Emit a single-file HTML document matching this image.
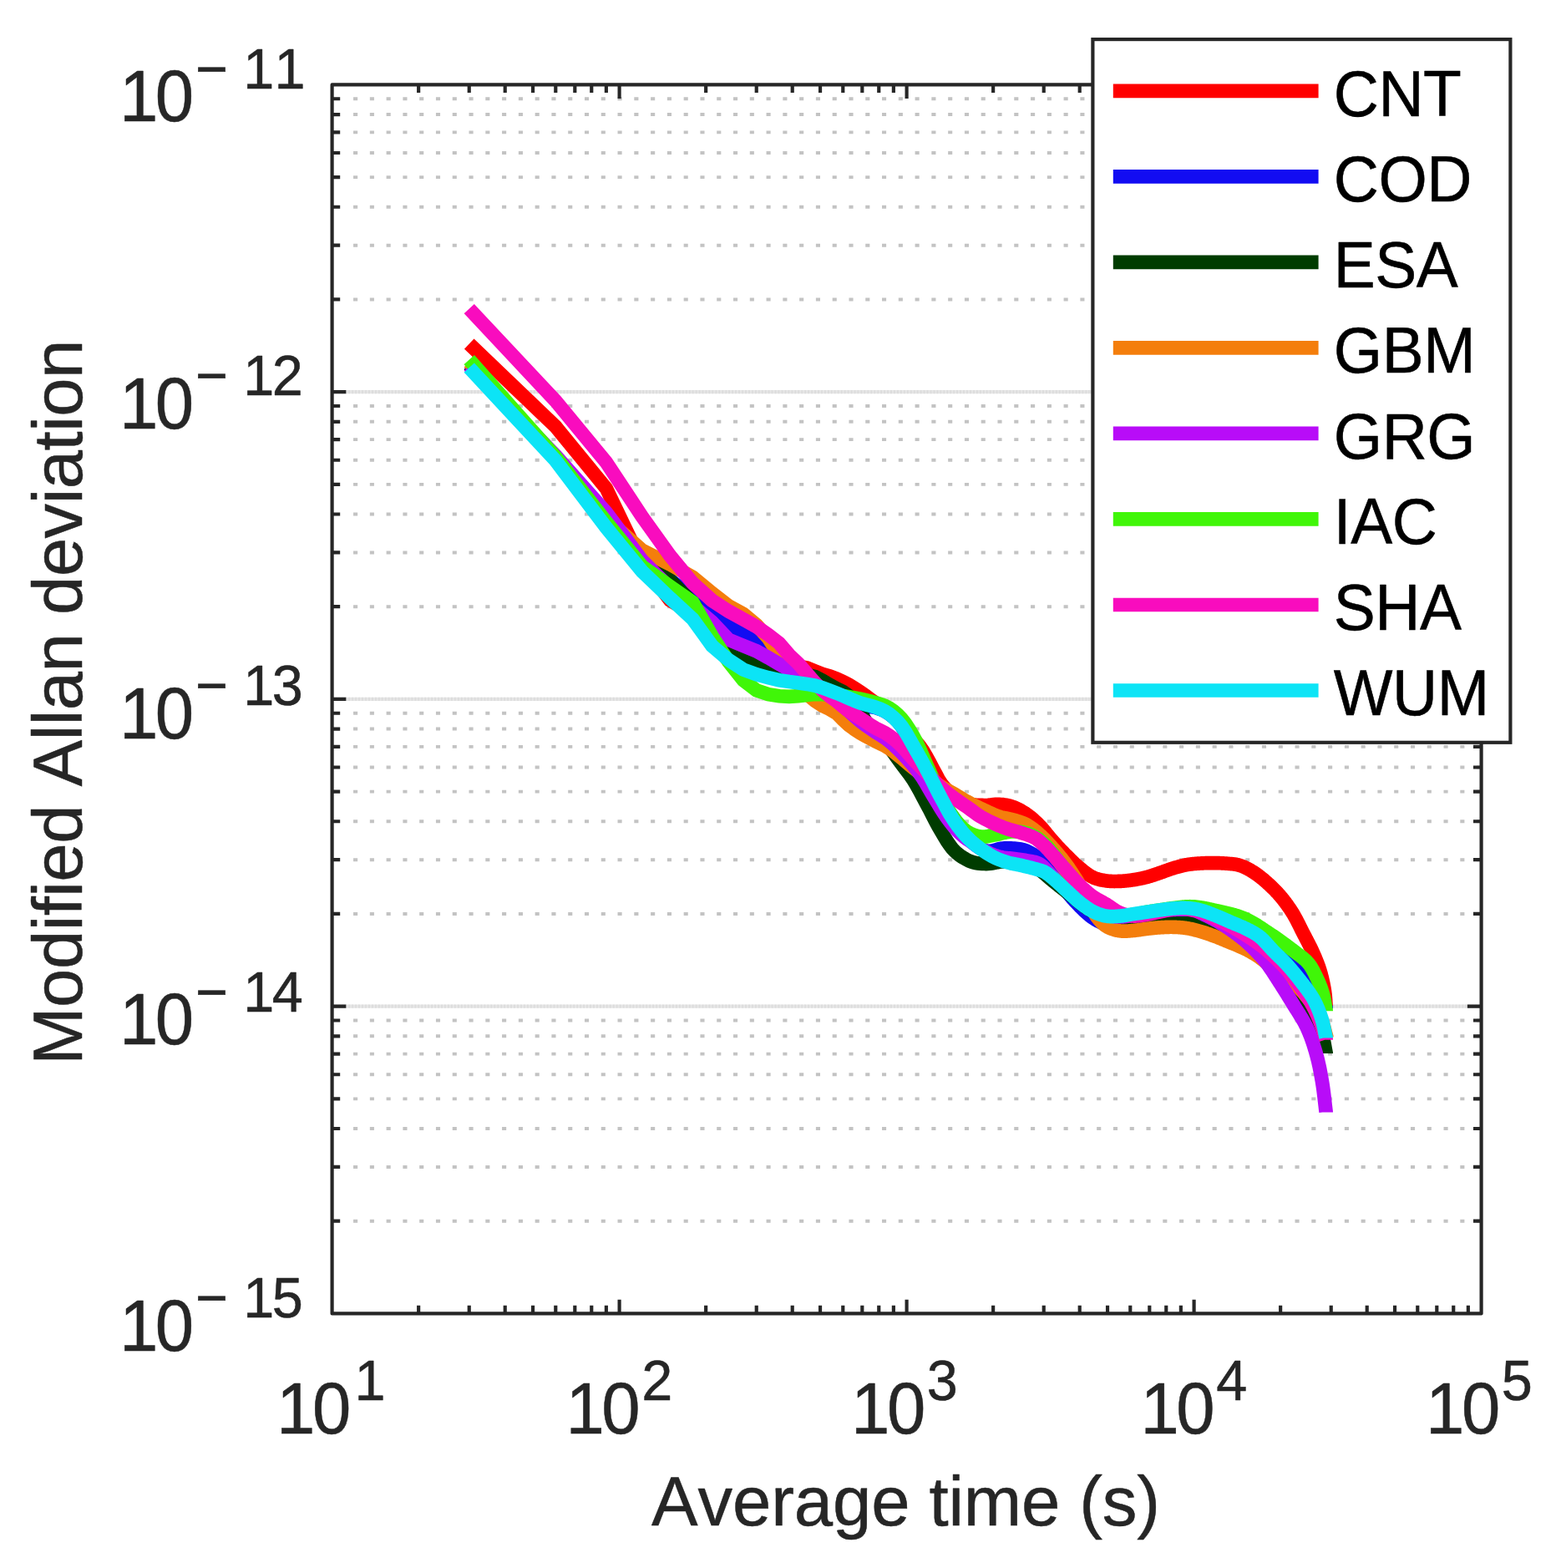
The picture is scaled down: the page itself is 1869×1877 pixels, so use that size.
<!DOCTYPE html>
<html lang="en"><head><meta charset="utf-8"><title>Modified Allan deviation</title>
<style>html,body{margin:0;padding:0;background:#fff}svg{display:block}text{font-family:"Liberation Sans", Arial, Helvetica, sans-serif;font-kerning:none}</style></head><body>
<svg width="1869" height="1877" viewBox="0 0 1869 1877">
<rect width="1869" height="1877" fill="#fff"/>
<path d="M423.05 358.45H1773.6M423.05 293.69H1773.6M423.05 247.74H1773.6M423.05 212.1H1773.6M423.05 182.98H1773.6M423.05 158.37H1773.6M423.05 137.04H1773.6M423.05 118.23H1773.6M423.05 726.2H1773.6M423.05 661.44H1773.6M423.05 615.49H1773.6M423.05 579.85H1773.6M423.05 550.73H1773.6M423.05 526.12H1773.6M423.05 504.79H1773.6M423.05 485.98H1773.6M423.05 1093.95H1773.6M423.05 1029.19H1773.6M423.05 983.24H1773.6M423.05 947.6H1773.6M423.05 918.48H1773.6M423.05 893.87H1773.6M423.05 872.54H1773.6M423.05 853.73H1773.6M423.05 1461.7H1773.6M423.05 1396.94H1773.6M423.05 1350.99H1773.6M423.05 1315.35H1773.6M423.05 1286.23H1773.6M423.05 1261.62H1773.6M423.05 1240.29H1773.6M423.05 1221.48H1773.6" fill="none" stroke="#c3c3c3" stroke-width="3.9" stroke-dasharray="5.1 14.68"/>
<path d="M397.6 469.15H1773.6M397.6 836.9H1773.6M397.6 1204.65H1773.6" fill="none" stroke="#e6e6e6" stroke-width="4.2"/>
<path d="M397.6 469.15H1773.6M397.6 836.9H1773.6M397.6 1204.65H1773.6" fill="none" stroke="#d4d4d4" stroke-opacity="0.55" stroke-width="4.2" stroke-dasharray="1.7 2.256"/>
<g fill="none" stroke-width="16.7" stroke-linejoin="miter" stroke-miterlimit="10" stroke-linecap="butt">
<path stroke="#ff0000" d="M561.73 411.6L665.28 510.8L725.86 584.7L768.84 674.3L802.18 718.5L829.41 735L852.44 766L872.39 786L889.99 795L905.73 799L919.97 798.23L932.97 797L944.93 796.92L956 797.5L966.31 799.59L975.95 803.5L985 806.96L993.54 809.42L1001.62 812.39L1009.28 815.94L1016.57 819.82L1023.52 824.05L1030.16 828.41L1036.52 832.88L1042.62 837.36L1048.48 841.5L1054.12 845.26L1059.55 848.94L1064.79 852.77L1069.86 856.54L1074.76 860.55L1079.5 865.18L1084.1 870.76L1088.56 876.86L1092.89 882.88L1097.1 888.2L1101.19 893.15L1105.18 898.86L1109.06 905.49L1112.84 912.3L1116.53 919.33L1120.13 926.03L1123.64 932.71L1127.08 938.07L1130.43 942.17L1133.72 945.71L1136.93 948.82L1140.08 951.55L1143.16 953.9L1146.18 955.96L1149.13 957.76L1152.03 959.29L1154.88 960.56L1157.67 961.58L1160.41 962.36L1163.11 962.91L1165.75 963.3L1168.35 963.56L1170.9 963.75L1173.41 963.86L1175.88 963.94L1178.31 963.98L1180.7 964L1183.06 963.9L1185.37 963.68L1187.65 963.39L1189.9 963.11L1192.11 962.88L1194.29 962.78L1196.44 962.82L1198.56 962.96L1200.65 963.16L1202.71 963.42L1204.75 963.74L1206.75 964.14L1208.73 964.6L1210.68 965.15L1212.61 965.78L1214.51 966.49L1216.39 967.29L1218.25 968.15L1220.08 969.09L1221.89 970.08L1223.68 971.12L1225.45 972.2L1227.2 973.33L1228.92 974.5L1230.63 975.72L1232.32 977L1233.99 978.33L1235.64 979.71L1237.27 981.13L1238.89 982.59L1240.49 984.08L1242.07 985.59L1243.63 987.13L1245.18 988.71L1246.71 990.35L1248.23 992.07L1249.73 993.84L1251.22 995.64L1252.69 997.45L1254.15 999.25L1255.59 1001.03L1257.02 1002.77L1258.43 1004.46L1259.84 1006.08L1261.23 1007.63L1262.6 1009.16L1263.97 1010.66L1265.32 1012.13L1266.66 1013.58L1267.99 1015L1269.3 1016.4L1270.61 1017.77L1271.9 1019.12L1273.19 1020.44L1274.46 1021.74L1275.72 1023.02L1276.97 1024.27L1278.21 1025.51L1279.44 1026.74L1280.66 1027.96L1281.87 1029.16L1283.07 1030.33L1284.26 1031.49L1285.44 1032.61L1286.61 1033.71L1287.77 1034.79L1288.93 1035.83L1290.07 1036.83L1291.21 1037.81L1292.33 1038.75L1293.45 1039.66L1294.56 1040.57L1295.67 1041.47L1296.76 1042.36L1297.85 1043.22L1298.93 1044.06L1300 1044.87L1301.06 1045.65L1302.12 1046.4L1303.17 1047.11L1304.21 1047.79L1305.24 1048.42L1306.27 1049.01L1307.29 1049.55L1308.3 1050.05L1309.31 1050.51L1310.31 1050.93L1311.3 1051.31L1312.28 1051.66L1313.26 1051.98L1314.24 1052.28L1315.2 1052.56L1316.16 1052.81L1317.12 1053.04L1318.07 1053.26L1319.01 1053.46L1319.95 1053.64L1320.88 1053.81L1321.8 1053.98L1322.72 1054.13L1323.64 1054.27L1324.54 1054.41L1325.45 1054.53L1326.34 1054.64L1327.24 1054.73L1328.12 1054.8L1329 1054.87L1329.88 1054.92L1330.75 1054.96L1331.62 1054.99L1332.48 1055.01L1333.33 1055.02L1334.19 1055.03L1335.03 1055.02L1335.87 1055.02L1336.71 1055L1337.54 1054.99L1338.37 1054.97L1339.19 1054.94L1340.01 1054.92L1340.83 1054.89L1341.64 1054.85L1342.44 1054.82L1343.24 1054.77L1344.04 1054.72L1344.83 1054.66L1345.62 1054.6L1346.41 1054.54L1347.19 1054.47L1347.96 1054.39L1348.73 1054.31L1349.5 1054.23L1350.27 1054.14L1351.03 1054.05L1351.78 1053.96L1352.54 1053.87L1353.28 1053.77L1354.03 1053.67L1354.77 1053.57L1355.51 1053.46L1356.24 1053.35L1356.97 1053.24L1357.7 1053.13L1358.42 1053.02L1359.14 1052.9L1359.86 1052.78L1360.57 1052.66L1361.28 1052.54L1361.99 1052.41L1362.69 1052.29L1363.39 1052.16L1364.09 1052.02L1364.78 1051.89L1365.47 1051.75L1366.16 1051.61L1366.84 1051.46L1367.52 1051.31L1368.2 1051.16L1368.88 1051.01L1369.55 1050.86L1370.22 1050.7L1370.88 1050.53L1371.54 1050.37L1372.2 1050.2L1372.86 1050.03L1373.51 1049.86L1374.16 1049.68L1374.81 1049.49L1375.46 1049.3L1376.1 1049.11L1376.74 1048.92L1377.38 1048.72L1378.01 1048.52L1378.64 1048.32L1379.27 1048.11L1379.9 1047.9L1380.52 1047.7L1381.14 1047.49L1381.76 1047.28L1382.38 1047.07L1382.99 1046.86L1383.6 1046.65L1384.21 1046.44L1384.82 1046.23L1385.42 1046.02L1386.02 1045.81L1387.22 1045.4L1388.4 1045L1389.58 1044.6L1390.75 1044.19L1391.9 1043.78L1393.05 1043.37L1394.19 1042.95L1395.33 1042.53L1396.45 1042.12L1397.56 1041.71L1398.67 1041.32L1399.77 1040.93L1400.86 1040.55L1401.94 1040.18L1403.02 1039.83L1404.08 1039.49L1405.14 1039.17L1406.2 1038.85L1407.24 1038.54L1408.28 1038.24L1409.31 1037.95L1410.33 1037.66L1411.35 1037.38L1412.36 1037.11L1413.36 1036.85L1414.36 1036.59L1415.35 1036.35L1416.33 1036.12L1417.31 1035.9L1418.28 1035.69L1419.24 1035.5L1420.2 1035.31L1421.15 1035.14L1422.09 1034.98L1423.03 1034.83L1423.97 1034.69L1424.9 1034.57L1425.82 1034.45L1426.73 1034.34L1427.65 1034.24L1428.55 1034.15L1429.45 1034.06L1430.35 1033.98L1431.23 1033.9L1432.12 1033.83L1433 1033.76L1433.87 1033.7L1434.74 1033.64L1435.6 1033.58L1436.46 1033.52L1437.32 1033.47L1438.16 1033.42L1439.01 1033.37L1439.85 1033.33L1440.68 1033.29L1441.51 1033.26L1442.34 1033.23L1443.16 1033.2L1443.97 1033.18L1444.79 1033.16L1445.59 1033.14L1446.4 1033.13L1447.2 1033.12L1447.99 1033.11L1448.78 1033.1L1449.57 1033.1L1450.35 1033.09L1451.13 1033.09L1451.9 1033.1L1452.67 1033.1L1453.44 1033.1L1454.2 1033.11L1454.96 1033.12L1455.71 1033.13L1456.46 1033.14L1457.21 1033.15L1457.95 1033.16L1458.69 1033.18L1459.43 1033.2L1460.16 1033.22L1460.89 1033.24L1461.62 1033.26L1462.34 1033.29L1463.06 1033.32L1463.77 1033.35L1464.48 1033.39L1465.19 1033.43L1465.9 1033.47L1466.6 1033.52L1467.3 1033.57L1467.99 1033.62L1468.68 1033.68L1469.37 1033.74L1470.06 1033.8L1470.74 1033.85L1471.42 1033.9L1472.09 1033.96L1472.77 1034.01L1473.44 1034.06L1474.1 1034.12L1474.77 1034.18L1475.43 1034.24L1476.09 1034.31L1476.74 1034.38L1477.39 1034.46L1478.04 1034.55L1478.69 1034.64L1479.33 1034.74L1479.97 1034.85L1480.61 1034.97L1481.25 1035.1L1481.88 1035.24L1482.51 1035.39L1483.14 1035.55L1483.77 1035.73L1484.39 1035.92L1485.01 1036.12L1485.62 1036.33L1486.24 1036.54L1486.85 1036.77L1487.46 1037L1488.07 1037.24L1488.67 1037.49L1489.28 1037.75L1490.18 1038.15L1491.07 1038.56L1491.96 1038.99L1492.84 1039.43L1493.72 1039.89L1494.59 1040.35L1495.46 1040.83L1496.32 1041.31L1497.18 1041.8L1498.03 1042.31L1498.88 1042.81L1499.72 1043.33L1500.56 1043.85L1501.4 1044.39L1502.23 1044.94L1503.05 1045.49L1503.87 1046.06L1504.69 1046.64L1505.5 1047.23L1506.3 1047.82L1507.11 1048.43L1507.9 1049.04L1508.7 1049.65L1509.49 1050.28L1510.27 1050.91L1511.06 1051.54L1511.83 1052.18L1512.61 1052.82L1513.38 1053.47L1514.14 1054.12L1514.9 1054.77L1515.66 1055.43L1516.41 1056.09L1517.16 1056.75L1517.91 1057.42L1518.65 1058.09L1519.39 1058.76L1520.13 1059.44L1520.86 1060.12L1521.59 1060.81L1522.31 1061.5L1523.03 1062.2L1523.75 1062.9L1524.47 1063.61L1525.18 1064.32L1525.88 1065.04L1526.59 1065.76L1527.29 1066.49L1527.99 1067.23L1528.68 1067.97L1529.37 1068.72L1530.06 1069.47L1530.74 1070.24L1531.43 1071L1532.1 1071.78L1532.78 1072.56L1533.45 1073.35L1534.12 1074.15L1534.79 1074.95L1535.45 1075.76L1536.11 1076.58L1536.77 1077.41L1537.43 1078.25L1538.08 1079.09L1538.73 1079.94L1539.37 1080.8L1540.02 1081.67L1540.66 1082.54L1541.29 1083.42L1541.93 1084.32L1542.56 1085.22L1543.19 1086.13L1543.82 1087.04L1544.44 1087.97L1545.07 1088.91L1545.69 1089.85L1546.3 1090.8L1546.92 1091.77L1547.53 1092.74L1548.14 1093.73L1548.75 1094.73L1549.35 1095.76L1549.95 1096.8L1550.75 1098.23L1551.55 1099.69L1552.34 1101.17L1553.12 1102.69L1553.9 1104.22L1554.68 1105.76L1555.46 1107.31L1556.23 1108.87L1556.99 1110.41L1557.76 1111.95L1558.51 1113.46L1559.27 1114.96L1560.02 1116.43L1560.77 1117.87L1561.51 1119.3L1562.25 1120.72L1562.98 1122.13L1563.72 1123.54L1564.45 1124.94L1565.17 1126.33L1565.89 1127.72L1566.61 1129.12L1567.33 1130.52L1568.04 1131.93L1568.75 1133.34L1569.45 1134.77L1570.15 1136.21L1570.85 1137.68L1571.54 1139.16L1572.24 1140.68L1572.92 1142.24L1573.61 1143.81L1574.29 1145.39L1574.97 1146.99L1575.65 1148.62L1576.32 1150.28L1576.99 1151.98L1577.66 1153.73L1578.32 1155.53L1578.98 1157.4L1579.64 1159.36L1580.3 1161.41L1580.95 1163.57L1581.6 1165.87L1582.24 1168.3L1582.89 1170.88L1583.53 1173.61L1584.17 1176.52L1584.8 1179.65L1585.44 1183.05L1586.07 1186.84L1586.69 1191.94L1587.32 1200.12L1587.39 1201.1L1587.5 1202.54L1587.63 1204l0 0.6"/>
<path stroke="#120cf2" d="M561.73 436L665.28 548L725.86 620L768.84 664L802.18 694L829.41 716L852.44 732L872.39 748L889.99 757L905.73 764L919.97 770.06L932.97 777L944.93 787.81L956 799L966.31 807.7L975.95 815L985 821.15L993.54 826.42L1001.62 830.82L1009.28 834.17L1016.57 837.05L1023.52 840.21L1030.16 843.63L1036.52 845.82L1042.62 846.07L1048.48 847.14L1054.12 848.96L1059.55 851.37L1064.79 854.62L1069.86 858.7L1074.76 863.62L1079.5 869.51L1084.1 877.15L1088.56 886.12L1092.89 894.91L1097.1 902.65L1101.19 910.03L1105.18 917.21L1109.06 924.26L1112.84 931.39L1116.53 938.66L1120.13 945.65L1123.64 952.04L1127.08 957.72L1130.43 962.89L1133.72 967.71L1136.93 972.27L1140.08 976.64L1143.16 980.84L1146.18 984.9L1149.13 988.85L1152.03 992.77L1154.88 996.78L1157.67 1000.67L1160.41 1004.23L1163.11 1007.29L1165.75 1009.79L1168.35 1011.87L1170.9 1013.71L1173.41 1015.31L1175.88 1016.64L1178.31 1017.71L1180.7 1018.49L1183.06 1018.94L1185.37 1018.97L1187.65 1018.62L1189.9 1018.04L1192.11 1017.35L1194.29 1016.67L1196.44 1016.1L1198.56 1015.73L1200.65 1015.54L1202.71 1015.42L1204.75 1015.34L1206.75 1015.32L1208.73 1015.34L1210.68 1015.41L1212.61 1015.52L1214.51 1015.67L1216.39 1015.86L1218.25 1016.06L1220.08 1016.3L1221.89 1016.59L1223.68 1016.96L1225.45 1017.4L1227.2 1017.94L1228.92 1018.58L1230.63 1019.32L1232.32 1020.14L1233.99 1021.02L1235.64 1021.97L1237.27 1022.95L1238.89 1023.98L1240.49 1025.03L1242.07 1026.11L1243.63 1027.2L1245.18 1028.3L1246.71 1029.39L1248.23 1030.5L1249.73 1031.63L1251.22 1032.79L1252.69 1033.98L1254.15 1035.22L1255.59 1036.5L1257.02 1037.85L1258.43 1039.27L1259.84 1040.78L1261.23 1042.41L1262.6 1044.2L1263.97 1046.15L1265.32 1048.24L1266.66 1050.42L1267.99 1052.67L1269.3 1054.93L1270.61 1057.17L1271.9 1059.35L1273.19 1061.43L1274.46 1063.39L1275.72 1065.21L1276.97 1066.88L1278.21 1068.48L1279.44 1070.03L1280.66 1071.53L1281.87 1072.98L1283.07 1074.39L1284.26 1075.76L1285.44 1077.1L1286.61 1078.39L1287.77 1079.66L1288.93 1080.89L1290.07 1082.1L1291.21 1083.28L1292.33 1084.43L1293.45 1085.57L1294.56 1086.68L1295.67 1087.77L1296.76 1088.84L1297.85 1089.89L1298.93 1090.91L1300 1091.9L1301.06 1092.87L1302.12 1093.81L1303.17 1094.71L1304.21 1095.59L1305.24 1096.42L1306.27 1097.22L1307.29 1097.99L1308.3 1098.71L1309.31 1099.39L1310.31 1100.03L1311.3 1100.63L1312.28 1101.21L1313.26 1101.75L1314.24 1102.27L1315.2 1102.76L1316.16 1103.24L1317.12 1103.69L1318.07 1104.13L1319.01 1104.56L1319.95 1104.98L1320.88 1105.39L1321.8 1105.8L1322.72 1106.2L1323.64 1106.58L1324.54 1106.94L1325.45 1107.27L1326.34 1107.57L1327.24 1107.84L1328.12 1108.08L1329 1108.29L1329.88 1108.48L1330.75 1108.64L1331.62 1108.79L1332.48 1108.93L1333.33 1109.05L1334.19 1109.16L1335.03 1109.26L1335.87 1109.35L1336.71 1109.43L1337.54 1109.51L1338.37 1109.58L1339.19 1109.64L1340.01 1109.69L1340.83 1109.75L1341.64 1109.79L1342.44 1109.83L1343.24 1109.87L1344.04 1109.9L1344.83 1109.93L1345.62 1109.95L1346.41 1109.98L1347.19 1109.99L1347.96 1110.01L1348.73 1110.02L1349.5 1110.03L1350.27 1110.04L1351.03 1110.04L1351.78 1110.04L1352.54 1110.04L1353.28 1110.04L1354.03 1110.03L1354.77 1110.03L1355.51 1110.02L1356.24 1110.01L1356.97 1109.99L1357.7 1109.97L1358.42 1109.95L1359.14 1109.91L1359.86 1109.88L1360.57 1109.83L1361.28 1109.79L1361.99 1109.74L1362.69 1109.69L1363.39 1109.63L1364.09 1109.57L1364.78 1109.51L1365.47 1109.45L1366.16 1109.38L1366.84 1109.31L1367.52 1109.24L1368.2 1109.17L1368.88 1109.09L1369.55 1109.02L1370.22 1108.94L1370.88 1108.87L1371.54 1108.79L1372.2 1108.71L1372.86 1108.63L1373.51 1108.55L1374.16 1108.47L1374.81 1108.39L1375.46 1108.31L1376.1 1108.23L1376.74 1108.15L1377.38 1108.07L1378.01 1107.99L1378.64 1107.92L1379.27 1107.84L1379.9 1107.76L1380.52 1107.68L1381.14 1107.61L1381.76 1107.53L1382.38 1107.46L1382.99 1107.38L1383.6 1107.31L1384.21 1107.24L1384.82 1107.17L1385.42 1107.1L1386.02 1107.03L1387.22 1106.9L1388.4 1106.78L1389.58 1106.66L1390.75 1106.55L1391.9 1106.45L1393.05 1106.36L1394.19 1106.27L1395.33 1106.2L1396.45 1106.13L1397.56 1106.08L1398.67 1106.04L1399.77 1106.01L1400.86 1105.99L1401.94 1105.97L1403.02 1105.97L1404.08 1105.96L1405.14 1105.97L1406.2 1105.97L1407.24 1105.99L1408.28 1106.01L1409.31 1106.03L1410.33 1106.06L1411.35 1106.09L1412.36 1106.12L1413.36 1106.16L1414.36 1106.21L1415.35 1106.25L1416.33 1106.3L1417.31 1106.36L1418.28 1106.41L1419.24 1106.47L1420.2 1106.53L1421.15 1106.6L1422.09 1106.67L1423.03 1106.74L1423.97 1106.81L1424.9 1106.88L1425.82 1106.96L1426.73 1107.04L1427.65 1107.12L1428.55 1107.2L1429.45 1107.28L1430.35 1107.36L1431.23 1107.45L1432.12 1107.53L1433 1107.62L1433.87 1107.7L1434.74 1107.79L1435.6 1107.88L1436.46 1107.97L1437.32 1108.05L1438.16 1108.14L1439.01 1108.23L1439.85 1108.32L1440.68 1108.41L1441.51 1108.51L1442.34 1108.6L1443.16 1108.69L1443.97 1108.79L1444.79 1108.88L1445.59 1108.98L1446.4 1109.07L1447.2 1109.17L1447.99 1109.27L1448.78 1109.37L1449.57 1109.47L1450.35 1109.57L1451.13 1109.67L1451.9 1109.77L1452.67 1109.88L1453.44 1109.98L1454.2 1110.09L1454.96 1110.19L1455.71 1110.3L1456.46 1110.41L1457.21 1110.52L1457.95 1110.63L1458.69 1110.74L1459.43 1110.86L1460.16 1110.97L1460.89 1111.09L1461.62 1111.21L1462.34 1111.33L1463.06 1111.45L1463.77 1111.57L1464.48 1111.69L1465.19 1111.82L1465.9 1111.94L1466.6 1112.07L1467.3 1112.2L1467.99 1112.33L1468.68 1112.46L1469.37 1112.59L1470.06 1112.73L1470.74 1112.86L1471.42 1113L1472.09 1113.14L1472.77 1113.28L1473.44 1113.43L1474.1 1113.57L1474.77 1113.72L1475.43 1113.87L1476.09 1114.02L1476.74 1114.17L1477.39 1114.32L1478.04 1114.47L1478.69 1114.62L1479.33 1114.77L1479.97 1114.92L1480.61 1115.07L1481.25 1115.22L1481.88 1115.37L1482.51 1115.52L1483.14 1115.67L1483.77 1115.83L1484.39 1115.98L1485.01 1116.13L1485.62 1116.29L1486.24 1116.44L1486.85 1116.6L1487.46 1116.75L1488.07 1116.91L1488.67 1117.07L1489.28 1117.23L1490.18 1117.48L1491.07 1117.73L1491.96 1117.98L1492.84 1118.24L1493.72 1118.5L1494.59 1118.77L1495.46 1119.04L1496.32 1119.32L1497.18 1119.61L1498.03 1119.9L1498.88 1120.2L1499.72 1120.5L1500.56 1120.81L1501.4 1121.13L1502.23 1121.46L1503.05 1121.79L1503.87 1122.13L1504.69 1122.48L1505.5 1122.83L1506.3 1123.2L1507.11 1123.58L1507.9 1123.95L1508.7 1124.35L1509.49 1124.75L1510.27 1125.16L1511.06 1125.58L1511.83 1126.01L1512.61 1126.45L1513.38 1126.89L1514.14 1127.34L1514.9 1127.8L1515.66 1128.26L1516.41 1128.73L1517.16 1129.2L1517.91 1129.68L1518.65 1130.16L1519.39 1130.65L1520.13 1131.14L1520.86 1131.64L1521.59 1132.14L1522.31 1132.64L1523.03 1133.14L1523.75 1133.65L1524.47 1134.15L1525.18 1134.66L1525.88 1135.18L1526.59 1135.69L1527.29 1136.21L1527.99 1136.72L1528.68 1137.24L1529.37 1137.76L1530.06 1138.28L1530.74 1138.8L1531.43 1139.32L1532.1 1139.84L1532.78 1140.36L1533.45 1140.88L1534.12 1141.4L1534.79 1141.92L1535.45 1142.43L1536.11 1142.95L1536.77 1143.46L1537.43 1143.98L1538.08 1144.49L1538.73 1145L1539.37 1145.51L1540.02 1146.01L1540.66 1146.52L1541.29 1147.02L1541.93 1147.53L1542.56 1148.03L1543.19 1148.54L1543.82 1149.05L1544.44 1149.56L1545.07 1150.07L1545.69 1150.58L1546.3 1151.1L1546.92 1151.62L1547.53 1152.14L1548.14 1152.67L1548.75 1153.2L1549.35 1153.74L1549.95 1154.28L1550.75 1155L1551.55 1155.74L1552.34 1156.49L1553.12 1157.25L1553.9 1158.02L1554.68 1158.8L1555.46 1159.6L1556.23 1160.4L1556.99 1161.22L1557.76 1162.06L1558.51 1162.91L1559.27 1163.77L1560.02 1164.65L1560.77 1165.55L1561.51 1166.46L1562.25 1167.38L1562.98 1168.31L1563.72 1169.25L1564.45 1170.21L1565.17 1171.18L1565.89 1172.16L1566.61 1173.15L1567.33 1174.15L1568.04 1175.16L1568.75 1176.17L1569.45 1177.19L1570.15 1178.23L1570.85 1179.28L1571.54 1180.37L1572.24 1181.49L1572.92 1182.63L1573.61 1183.8L1574.29 1184.99L1574.97 1186.18L1575.65 1187.39L1576.32 1188.6L1576.99 1189.8L1577.66 1190.98L1578.32 1192.15L1578.98 1193.29L1579.64 1194.41L1580.3 1195.48L1580.95 1196.54L1581.6 1197.58L1582.24 1198.6L1582.89 1199.61L1583.53 1200.62L1584.17 1201.61L1584.8 1202.6L1585.44 1203.58L1586.07 1204.56L1586.69 1205.53L1587.32 1206.51L1587.63 1207l0 0.6"/>
<path stroke="#003c00" d="M561.73 437L665.28 549L725.86 621L768.84 668L802.18 694.5L829.41 722L852.44 752L872.39 778L889.99 790L905.73 793.5L919.97 796.84L932.97 800L944.93 803.18L956 806L966.31 807.57L975.95 810.12L985 814.74L993.54 819.83L1001.62 824.26L1009.28 828.06L1016.57 833.04L1023.52 840.37L1030.16 852.58L1036.52 863.37L1042.62 870.62L1048.48 875.54L1054.12 881.48L1059.55 887.95L1064.79 894.57L1069.86 901.37L1074.76 908.11L1079.5 914.55L1084.1 920.56L1088.56 926.51L1092.89 932.75L1097.1 939.6L1101.19 946.95L1105.18 954.46L1109.06 961.8L1112.84 968.97L1116.53 976.22L1120.13 983.23L1123.64 989.76L1127.08 995.66L1130.43 1001.32L1133.72 1006.65L1136.93 1011.44L1140.08 1015.54L1143.16 1018.89L1146.18 1021.62L1149.13 1023.92L1152.03 1025.9L1154.88 1027.64L1157.67 1029.19L1160.41 1030.5L1163.11 1031.55L1165.75 1032.36L1168.35 1032.96L1170.9 1033.4L1173.41 1033.7L1175.88 1033.9L1178.31 1034.01L1180.7 1034.04L1183.06 1033.98L1185.37 1033.79L1187.65 1033.46L1189.9 1033.05L1192.11 1032.61L1194.29 1032.18L1196.44 1031.81L1198.56 1031.53L1200.65 1031.32L1202.71 1031.14L1204.75 1030.99L1206.75 1030.9L1208.73 1030.87L1210.68 1030.92L1212.61 1031.05L1214.51 1031.23L1216.39 1031.46L1218.25 1031.74L1220.08 1032.06L1221.89 1032.42L1223.68 1032.83L1225.45 1033.27L1227.2 1033.76L1228.92 1034.29L1230.63 1034.85L1232.32 1035.45L1233.99 1036.08L1235.64 1036.75L1237.27 1037.47L1238.89 1038.22L1240.49 1039.02L1242.07 1039.87L1243.63 1040.78L1245.18 1041.75L1246.71 1042.81L1248.23 1043.96L1249.73 1045.16L1251.22 1046.41L1252.69 1047.69L1254.15 1048.98L1255.59 1050.25L1257.02 1051.5L1258.43 1052.71L1259.84 1053.87L1261.23 1054.99L1262.6 1056.1L1263.97 1057.19L1265.32 1058.27L1266.66 1059.35L1267.99 1060.41L1269.3 1061.46L1270.61 1062.5L1271.9 1063.53L1273.19 1064.56L1274.46 1065.57L1275.72 1066.58L1276.97 1067.58L1278.21 1068.57L1279.44 1069.55L1280.66 1070.53L1281.87 1071.52L1283.07 1072.51L1284.26 1073.5L1285.44 1074.5L1286.61 1075.49L1287.77 1076.47L1288.93 1077.44L1290.07 1078.4L1291.21 1079.34L1292.33 1080.27L1293.45 1081.17L1294.56 1082.04L1295.67 1082.89L1296.76 1083.71L1297.85 1084.51L1298.93 1085.27L1300 1086L1301.06 1086.71L1302.12 1087.4L1303.17 1088.09L1304.21 1088.75L1305.24 1089.41L1306.27 1090.05L1307.29 1090.67L1308.3 1091.28L1309.31 1091.87L1310.31 1092.44L1311.3 1092.99L1312.28 1093.52L1313.26 1094.03L1314.24 1094.51L1315.2 1094.98L1316.16 1095.42L1317.12 1095.85L1318.07 1096.25L1319.01 1096.63L1319.95 1096.98L1320.88 1097.31L1321.8 1097.63L1322.72 1097.92L1323.64 1098.2L1324.54 1098.46L1325.45 1098.71L1326.34 1098.94L1327.24 1099.15L1328.12 1099.35L1329 1099.53L1329.88 1099.7L1330.75 1099.86L1331.62 1100.01L1332.48 1100.14L1333.33 1100.27L1334.19 1100.39L1335.03 1100.49L1335.87 1100.6L1336.71 1100.69L1337.54 1100.77L1338.37 1100.86L1339.19 1100.93L1340.01 1101L1340.83 1101.06L1341.64 1101.11L1342.44 1101.16L1343.24 1101.19L1344.04 1101.21L1344.83 1101.23L1345.62 1101.24L1346.41 1101.24L1347.19 1101.24L1347.96 1101.24L1348.73 1101.23L1349.5 1101.21L1350.27 1101.19L1351.03 1101.17L1351.78 1101.15L1352.54 1101.12L1353.28 1101.09L1354.03 1101.05L1354.77 1101.02L1355.51 1100.98L1356.24 1100.94L1356.97 1100.9L1357.7 1100.86L1358.42 1100.82L1359.14 1100.77L1359.86 1100.73L1360.57 1100.68L1361.28 1100.64L1361.99 1100.59L1362.69 1100.55L1363.39 1100.5L1364.09 1100.46L1364.78 1100.42L1365.47 1100.37L1366.16 1100.33L1366.84 1100.29L1367.52 1100.24L1368.2 1100.2L1368.88 1100.16L1369.55 1100.13L1370.22 1100.09L1370.88 1100.06L1371.54 1100.02L1372.2 1099.99L1372.86 1099.96L1373.51 1099.93L1374.16 1099.89L1374.81 1099.86L1375.46 1099.82L1376.1 1099.79L1376.74 1099.75L1377.38 1099.71L1378.01 1099.68L1378.64 1099.64L1379.27 1099.6L1379.9 1099.56L1380.52 1099.52L1381.14 1099.48L1381.76 1099.44L1382.38 1099.4L1382.99 1099.36L1383.6 1099.32L1384.21 1099.28L1384.82 1099.24L1385.42 1099.2L1386.02 1099.16L1387.22 1099.08L1388.4 1098.99L1389.58 1098.91L1390.75 1098.83L1391.9 1098.75L1393.05 1098.67L1394.19 1098.6L1395.33 1098.52L1396.45 1098.45L1397.56 1098.37L1398.67 1098.3L1399.77 1098.24L1400.86 1098.17L1401.94 1098.11L1403.02 1098.05L1404.08 1098L1405.14 1097.94L1406.2 1097.88L1407.24 1097.81L1408.28 1097.74L1409.31 1097.67L1410.33 1097.59L1411.35 1097.52L1412.36 1097.46L1413.36 1097.4L1414.36 1097.36L1415.35 1097.32L1416.33 1097.3L1417.31 1097.29L1418.28 1097.3L1419.24 1097.33L1420.2 1097.37L1421.15 1097.42L1422.09 1097.48L1423.03 1097.55L1423.97 1097.63L1424.9 1097.71L1425.82 1097.79L1426.73 1097.89L1427.65 1097.98L1428.55 1098.09L1429.45 1098.2L1430.35 1098.32L1431.23 1098.44L1432.12 1098.57L1433 1098.7L1433.87 1098.85L1434.74 1098.99L1435.6 1099.15L1436.46 1099.31L1437.32 1099.47L1438.16 1099.64L1439.01 1099.82L1439.85 1100L1440.68 1100.19L1441.51 1100.38L1442.34 1100.58L1443.16 1100.78L1443.97 1100.99L1444.79 1101.21L1445.59 1101.43L1446.4 1101.65L1447.2 1101.88L1447.99 1102.11L1448.78 1102.34L1449.57 1102.58L1450.35 1102.82L1451.13 1103.06L1451.9 1103.31L1452.67 1103.56L1453.44 1103.81L1454.2 1104.06L1454.96 1104.32L1455.71 1104.57L1456.46 1104.84L1457.21 1105.1L1457.95 1105.37L1458.69 1105.63L1459.43 1105.9L1460.16 1106.18L1460.89 1106.45L1461.62 1106.73L1462.34 1107.01L1463.06 1107.29L1463.77 1107.57L1464.48 1107.86L1465.19 1108.14L1465.9 1108.44L1466.6 1108.73L1467.3 1109.02L1467.99 1109.32L1468.68 1109.62L1469.37 1109.91L1470.06 1110.22L1470.74 1110.52L1471.42 1110.83L1472.09 1111.14L1472.77 1111.45L1473.44 1111.76L1474.1 1112.08L1474.77 1112.4L1475.43 1112.72L1476.09 1113.04L1476.74 1113.37L1477.39 1113.69L1478.04 1114.02L1478.69 1114.34L1479.33 1114.67L1479.97 1114.99L1480.61 1115.32L1481.25 1115.65L1481.88 1115.97L1482.51 1116.3L1483.14 1116.63L1483.77 1116.96L1484.39 1117.29L1485.01 1117.63L1485.62 1117.96L1486.24 1118.3L1486.85 1118.63L1487.46 1118.97L1488.07 1119.31L1488.67 1119.65L1489.28 1120L1490.18 1120.52L1491.07 1121.04L1491.96 1121.57L1492.84 1122.11L1493.72 1122.65L1494.59 1123.19L1495.46 1123.74L1496.32 1124.3L1497.18 1124.87L1498.03 1125.44L1498.88 1126.01L1499.72 1126.6L1500.56 1127.19L1501.4 1127.8L1502.23 1128.41L1503.05 1129.02L1503.87 1129.65L1504.69 1130.29L1505.5 1130.93L1506.3 1131.58L1507.11 1132.25L1507.9 1132.92L1508.7 1133.61L1509.49 1134.31L1510.27 1135.04L1511.06 1135.77L1511.83 1136.52L1512.61 1137.28L1513.38 1138.05L1514.14 1138.83L1514.9 1139.63L1515.66 1140.43L1516.41 1141.24L1517.16 1142.06L1517.91 1142.88L1518.65 1143.72L1519.39 1144.56L1520.13 1145.4L1520.86 1146.25L1521.59 1147.11L1522.31 1147.96L1523.03 1148.83L1523.75 1149.69L1524.47 1150.56L1525.18 1151.42L1525.88 1152.29L1526.59 1153.16L1527.29 1154.03L1527.99 1154.9L1528.68 1155.77L1529.37 1156.64L1530.06 1157.51L1530.74 1158.37L1531.43 1159.23L1532.1 1160.09L1532.78 1160.94L1533.45 1161.79L1534.12 1162.64L1534.79 1163.48L1535.45 1164.31L1536.11 1165.14L1536.77 1165.96L1537.43 1166.77L1538.08 1167.57L1538.73 1168.37L1539.37 1169.15L1540.02 1169.92L1540.66 1170.69L1541.29 1171.44L1541.93 1172.19L1542.56 1172.94L1543.19 1173.68L1543.82 1174.42L1544.44 1175.16L1545.07 1175.89L1545.69 1176.62L1546.3 1177.36L1546.92 1178.08L1547.53 1178.81L1548.14 1179.54L1548.75 1180.27L1549.35 1180.99L1549.95 1181.72L1550.75 1182.68L1551.55 1183.65L1552.34 1184.63L1553.12 1185.6L1553.9 1186.57L1554.68 1187.55L1555.46 1188.53L1556.23 1189.52L1556.99 1190.5L1557.76 1191.48L1558.51 1192.45L1559.27 1193.4L1560.02 1194.35L1560.77 1195.3L1561.51 1196.24L1562.25 1197.18L1562.98 1198.12L1563.72 1199.07L1564.45 1200.02L1565.17 1200.97L1565.89 1201.93L1566.61 1202.9L1567.33 1203.89L1568.04 1204.88L1568.75 1205.9L1569.45 1206.93L1570.15 1207.99L1570.85 1209.08L1571.54 1210.2L1572.24 1211.37L1572.92 1212.58L1573.61 1213.83L1574.29 1215.12L1574.97 1216.45L1575.65 1217.82L1576.32 1219.24L1576.99 1220.71L1577.66 1222.23L1578.32 1223.81L1578.98 1225.46L1579.64 1227.16L1580.3 1228.94L1580.95 1230.79L1581.6 1232.73L1582.24 1234.74L1582.89 1236.93L1583.53 1239.39L1584.17 1242.15L1584.8 1245.22L1585.44 1248.57L1586.07 1252.07L1586.69 1255.53L1587.32 1258.78L1587.63 1260.3l0 0.6"/>
<path stroke="#f47e0c" d="M561.73 434L665.28 548L725.86 621L768.84 658.7L802.18 675.5L829.41 690.8L852.44 710L872.39 725.3L889.99 734.9L905.73 748L919.97 764L932.97 784L944.93 803L956 819L966.31 831L975.95 839L985 845L993.54 848.96L1001.62 853.76L1009.28 861.62L1016.57 868.29L1023.52 873.26L1030.16 877.52L1036.52 881.22L1042.62 884.47L1048.48 887.51L1054.12 890.16L1059.55 892.86L1064.79 896.05L1069.86 899.72L1074.76 903.58L1079.5 907.39L1084.1 911.29L1088.56 915.19L1092.89 918.83L1097.1 922.07L1101.19 925.04L1105.18 927.81L1109.06 930.44L1112.84 932.94L1116.53 935.32L1120.13 937.58L1123.64 939.73L1127.08 941.78L1130.43 943.72L1133.72 945.55L1136.93 947.32L1140.08 949.07L1143.16 950.82L1146.18 952.61L1149.13 954.41L1152.03 956.17L1154.88 957.85L1157.67 959.44L1160.41 960.92L1163.11 962.32L1165.75 963.66L1168.35 964.95L1170.9 966.19L1173.41 967.4L1175.88 968.57L1178.31 969.71L1180.7 970.83L1183.06 971.94L1185.37 973.05L1187.65 974.11L1189.9 975.13L1192.11 976.06L1194.29 976.9L1196.44 977.64L1198.56 978.25L1200.65 978.75L1202.71 979.17L1204.75 979.56L1206.75 979.95L1208.73 980.36L1210.68 980.82L1212.61 981.35L1214.51 981.88L1216.39 982.41L1218.25 982.95L1220.08 983.52L1221.89 984.12L1223.68 984.77L1225.45 985.49L1227.2 986.29L1228.92 987.19L1230.63 988.17L1232.32 989.23L1233.99 990.35L1235.64 991.54L1237.27 992.77L1238.89 994.04L1240.49 995.34L1242.07 996.67L1243.63 998.01L1245.18 999.36L1246.71 1000.76L1248.23 1002.2L1249.73 1003.67L1251.22 1005.17L1252.69 1006.7L1254.15 1008.24L1255.59 1009.8L1257.02 1011.36L1258.43 1012.92L1259.84 1014.48L1261.23 1016.04L1262.6 1017.6L1263.97 1019.16L1265.32 1020.73L1266.66 1022.31L1267.99 1023.9L1269.3 1025.49L1270.61 1027.11L1271.9 1028.73L1273.19 1030.37L1274.46 1032.03L1275.72 1033.71L1276.97 1035.41L1278.21 1037.14L1279.44 1038.89L1280.66 1040.65L1281.87 1042.43L1283.07 1044.22L1284.26 1046.02L1285.44 1047.83L1286.61 1049.65L1287.77 1051.48L1288.93 1053.32L1290.07 1055.17L1291.21 1057.03L1292.33 1058.89L1293.45 1060.78L1294.56 1062.72L1295.67 1064.7L1296.76 1066.72L1297.85 1068.76L1298.93 1070.81L1300 1072.85L1301.06 1074.85L1302.12 1076.82L1303.17 1078.82L1304.21 1080.9L1305.24 1083.01L1306.27 1085.12L1307.29 1087.2L1308.3 1089.2L1309.31 1091.11L1310.31 1092.91L1311.3 1094.58L1312.28 1096.1L1313.26 1097.48L1314.24 1098.77L1315.2 1100L1316.16 1101.17L1317.12 1102.28L1318.07 1103.32L1319.01 1104.28L1319.95 1105.18L1320.88 1106.01L1321.8 1106.78L1322.72 1107.49L1323.64 1108.13L1324.54 1108.73L1325.45 1109.27L1326.34 1109.77L1327.24 1110.22L1328.12 1110.65L1329 1111.04L1329.88 1111.4L1330.75 1111.74L1331.62 1112.06L1332.48 1112.35L1333.33 1112.63L1334.19 1112.88L1335.03 1113.12L1335.87 1113.34L1336.71 1113.55L1337.54 1113.74L1338.37 1113.91L1339.19 1114.07L1340.01 1114.22L1340.83 1114.35L1341.64 1114.46L1342.44 1114.54L1343.24 1114.6L1344.04 1114.65L1344.83 1114.67L1345.62 1114.69L1346.41 1114.68L1347.19 1114.67L1347.96 1114.64L1348.73 1114.61L1349.5 1114.56L1350.27 1114.51L1351.03 1114.46L1351.78 1114.4L1352.54 1114.34L1353.28 1114.27L1354.03 1114.21L1354.77 1114.15L1355.51 1114.09L1356.24 1114.03L1356.97 1113.97L1357.7 1113.91L1358.42 1113.84L1359.14 1113.76L1359.86 1113.68L1360.57 1113.59L1361.28 1113.5L1361.99 1113.41L1362.69 1113.31L1363.39 1113.21L1364.09 1113.11L1364.78 1113L1365.47 1112.9L1366.16 1112.8L1366.84 1112.69L1367.52 1112.59L1368.2 1112.49L1368.88 1112.39L1369.55 1112.3L1370.22 1112.2L1370.88 1112.11L1371.54 1112.03L1372.2 1111.95L1372.86 1111.87L1373.51 1111.79L1374.16 1111.72L1374.81 1111.65L1375.46 1111.57L1376.1 1111.5L1376.74 1111.43L1377.38 1111.35L1378.01 1111.28L1378.64 1111.21L1379.27 1111.15L1379.9 1111.08L1380.52 1111.01L1381.14 1110.95L1381.76 1110.89L1382.38 1110.82L1382.99 1110.77L1383.6 1110.71L1384.21 1110.65L1384.82 1110.6L1385.42 1110.55L1386.02 1110.5L1387.22 1110.4L1388.4 1110.32L1389.58 1110.24L1390.75 1110.17L1391.9 1110.1L1393.05 1110.04L1394.19 1109.98L1395.33 1109.93L1396.45 1109.88L1397.56 1109.84L1398.67 1109.81L1399.77 1109.79L1400.86 1109.77L1401.94 1109.77L1403.02 1109.77L1404.08 1109.79L1405.14 1109.81L1406.2 1109.84L1407.24 1109.88L1408.28 1109.92L1409.31 1109.97L1410.33 1110.03L1411.35 1110.09L1412.36 1110.16L1413.36 1110.24L1414.36 1110.32L1415.35 1110.42L1416.33 1110.52L1417.31 1110.63L1418.28 1110.74L1419.24 1110.87L1420.2 1111.01L1421.15 1111.16L1422.09 1111.31L1423.03 1111.48L1423.97 1111.65L1424.9 1111.83L1425.82 1112.02L1426.73 1112.22L1427.65 1112.43L1428.55 1112.64L1429.45 1112.85L1430.35 1113.07L1431.23 1113.3L1432.12 1113.52L1433 1113.75L1433.87 1113.99L1434.74 1114.23L1435.6 1114.46L1436.46 1114.7L1437.32 1114.95L1438.16 1115.19L1439.01 1115.45L1439.85 1115.7L1440.68 1115.96L1441.51 1116.22L1442.34 1116.49L1443.16 1116.76L1443.97 1117.03L1444.79 1117.31L1445.59 1117.58L1446.4 1117.86L1447.2 1118.14L1447.99 1118.42L1448.78 1118.7L1449.57 1118.99L1450.35 1119.27L1451.13 1119.55L1451.9 1119.83L1452.67 1120.12L1453.44 1120.4L1454.2 1120.68L1454.96 1120.97L1455.71 1121.26L1456.46 1121.54L1457.21 1121.83L1457.95 1122.13L1458.69 1122.42L1459.43 1122.71L1460.16 1123.01L1460.89 1123.3L1461.62 1123.59L1462.34 1123.89L1463.06 1124.18L1463.77 1124.48L1464.48 1124.77L1465.19 1125.06L1465.9 1125.35L1466.6 1125.64L1467.3 1125.93L1467.99 1126.22L1468.68 1126.51L1469.37 1126.79L1470.06 1127.08L1470.74 1127.36L1471.42 1127.63L1472.09 1127.91L1472.77 1128.18L1473.44 1128.45L1474.1 1128.72L1474.77 1128.99L1475.43 1129.26L1476.09 1129.53L1476.74 1129.79L1477.39 1130.06L1478.04 1130.32L1478.69 1130.59L1479.33 1130.85L1479.97 1131.12L1480.61 1131.38L1481.25 1131.65L1481.88 1131.91L1482.51 1132.18L1483.14 1132.44L1483.77 1132.71L1484.39 1132.98L1485.01 1133.25L1485.62 1133.52L1486.24 1133.79L1486.85 1134.06L1487.46 1134.34L1488.07 1134.61L1488.67 1134.89L1489.28 1135.17L1490.18 1135.6L1491.07 1136.03L1491.96 1136.48L1492.84 1136.93L1493.72 1137.38L1494.59 1137.84L1495.46 1138.31L1496.32 1138.78L1497.18 1139.26L1498.03 1139.74L1498.88 1140.23L1499.72 1140.72L1500.56 1141.22L1501.4 1141.73L1502.23 1142.24L1503.05 1142.76L1503.87 1143.28L1504.69 1143.81L1505.5 1144.34L1506.3 1144.88L1507.11 1145.42L1507.9 1145.96L1508.7 1146.51L1509.49 1147.07L1510.27 1147.64L1511.06 1148.23L1511.83 1148.82L1512.61 1149.43L1513.38 1150.04L1514.14 1150.66L1514.9 1151.28L1515.66 1151.9L1516.41 1152.52L1517.16 1153.14L1517.91 1153.76L1518.65 1154.38L1519.39 1154.98L1520.13 1155.59L1520.86 1156.18L1521.59 1156.76L1522.31 1157.33L1523.03 1157.89L1523.75 1158.44L1524.47 1158.97L1525.18 1159.49L1525.88 1160L1526.59 1160.49L1527.29 1160.98L1527.99 1161.45L1528.68 1161.92L1529.37 1162.38L1530.06 1162.83L1530.74 1163.28L1531.43 1163.73L1532.1 1164.17L1532.78 1164.61L1533.45 1165.05L1534.12 1165.49L1534.79 1165.94L1535.45 1166.38L1536.11 1166.83L1536.77 1167.28L1537.43 1167.74L1538.08 1168.2L1538.73 1168.67L1539.37 1169.15L1540.02 1169.63L1540.66 1170.12L1541.29 1170.62L1541.93 1171.11L1542.56 1171.61L1543.19 1172.1L1543.82 1172.6L1544.44 1173.1L1545.07 1173.6L1545.69 1174.1L1546.3 1174.6L1546.92 1175.11L1547.53 1175.62L1548.14 1176.13L1548.75 1176.64L1549.35 1177.16L1549.95 1177.68L1550.75 1178.39L1551.55 1179.1L1552.34 1179.83L1553.12 1180.56L1553.9 1181.3L1554.68 1182.06L1555.46 1182.83L1556.23 1183.61L1556.99 1184.41L1557.76 1185.22L1558.51 1186.04L1559.27 1186.87L1560.02 1187.71L1560.77 1188.56L1561.51 1189.42L1562.25 1190.29L1562.98 1191.17L1563.72 1192.05L1564.45 1192.95L1565.17 1193.85L1565.89 1194.77L1566.61 1195.69L1567.33 1196.62L1568.04 1197.56L1568.75 1198.51L1569.45 1199.48L1570.15 1200.45L1570.85 1201.44L1571.54 1202.44L1572.24 1203.46L1572.92 1204.49L1573.61 1205.54L1574.29 1206.6L1574.97 1207.67L1575.65 1208.77L1576.32 1209.88L1576.99 1211.01L1577.66 1212.17L1578.32 1213.36L1578.98 1214.57L1579.64 1215.81L1580.3 1217.1L1580.95 1218.42L1581.6 1219.8L1582.24 1221.23L1582.89 1222.73L1583.53 1224.34L1584.17 1226.12L1584.8 1228.11L1585.44 1230.31L1586.07 1232.69L1586.69 1235.18L1587.32 1237.65L1587.94 1239.98L1588.23 1241l0 0.6"/>
<path stroke="#b80cf8" d="M561.73 438L665.28 545.5L725.86 613.5L768.84 671L802.18 704L829.41 725L852.44 744.5L872.39 765.7L889.99 773L905.73 779.4L919.97 787.33L932.97 795L944.93 801.64L956 808L966.31 814.7L975.95 821L985 825.91L993.54 831.64L1001.62 838.4L1009.28 845.19L1016.57 851.56L1023.52 857.76L1030.16 863.39L1036.52 868.19L1042.62 872.48L1048.48 876.44L1054.12 879.94L1059.55 883.43L1064.79 887.4L1069.86 891.73L1074.76 896.35L1079.5 901.13L1084.1 905.99L1088.56 910.9L1092.89 915.88L1097.1 920.98L1101.19 926.31L1105.18 932.12L1109.06 938.53L1112.84 945.18L1116.53 951.57L1120.13 957.48L1123.64 963.32L1127.08 968.93L1130.43 974.16L1133.72 978.89L1136.93 983.21L1140.08 987.25L1143.16 990.98L1146.18 994.35L1149.13 997.36L1152.03 1000L1154.88 1002.29L1157.67 1004.36L1160.41 1006.27L1163.11 1008.1L1165.75 1009.9L1168.35 1011.7L1170.9 1013.45L1173.41 1015.12L1175.88 1016.68L1178.31 1018.09L1180.7 1019.36L1183.06 1020.52L1185.37 1021.6L1187.65 1022.59L1189.9 1023.49L1192.11 1024.3L1194.29 1025.01L1196.44 1025.62L1198.56 1026.09L1200.65 1026.46L1202.71 1026.75L1204.75 1026.98L1206.75 1027.19L1208.73 1027.39L1210.68 1027.62L1212.61 1027.87L1214.51 1028.12L1216.39 1028.35L1218.25 1028.57L1220.08 1028.79L1221.89 1029.01L1223.68 1029.26L1225.45 1029.52L1227.2 1029.81L1228.92 1030.13L1230.63 1030.42L1232.32 1030.68L1233.99 1030.94L1235.64 1031.23L1237.27 1031.55L1238.89 1031.94L1240.49 1032.41L1242.07 1032.99L1243.63 1033.7L1245.18 1034.58L1246.71 1035.65L1248.23 1036.88L1249.73 1038.25L1251.22 1039.74L1252.69 1041.3L1254.15 1042.89L1255.59 1044.47L1257.02 1046.02L1258.43 1047.49L1259.84 1048.86L1261.23 1050.16L1262.6 1051.42L1263.97 1052.67L1265.32 1053.9L1266.66 1055.12L1267.99 1056.32L1269.3 1057.51L1270.61 1058.68L1271.9 1059.84L1273.19 1060.99L1274.46 1062.12L1275.72 1063.23L1276.97 1064.34L1278.21 1065.43L1279.44 1066.51L1280.66 1067.58L1281.87 1068.66L1283.07 1069.74L1284.26 1070.83L1285.44 1071.91L1286.61 1072.98L1287.77 1074.05L1288.93 1075.09L1290.07 1076.12L1291.21 1077.12L1292.33 1078.1L1293.45 1079.05L1294.56 1079.97L1295.67 1080.85L1296.76 1081.7L1297.85 1082.5L1298.93 1083.27L1300 1084L1301.06 1084.69L1302.12 1085.36L1303.17 1086.01L1304.21 1086.64L1305.24 1087.25L1306.27 1087.84L1307.29 1088.4L1308.3 1088.95L1309.31 1089.47L1310.31 1089.98L1311.3 1090.46L1312.28 1090.93L1313.26 1091.38L1314.24 1091.8L1315.2 1092.21L1316.16 1092.6L1317.12 1092.97L1318.07 1093.33L1319.01 1093.66L1319.95 1093.98L1320.88 1094.28L1321.8 1094.57L1322.72 1094.85L1323.64 1095.11L1324.54 1095.36L1325.45 1095.59L1326.34 1095.81L1327.24 1096.02L1328.12 1096.21L1329 1096.39L1329.88 1096.55L1330.75 1096.7L1331.62 1096.83L1332.48 1096.95L1333.33 1097.06L1334.19 1097.15L1335.03 1097.24L1335.87 1097.31L1336.71 1097.37L1337.54 1097.42L1338.37 1097.45L1339.19 1097.48L1340.01 1097.5L1340.83 1097.5L1341.64 1097.49L1342.44 1097.47L1343.24 1097.43L1344.04 1097.38L1344.83 1097.32L1345.62 1097.25L1346.41 1097.18L1347.19 1097.09L1347.96 1097L1348.73 1096.91L1349.5 1096.8L1350.27 1096.69L1351.03 1096.58L1351.78 1096.47L1352.54 1096.35L1353.28 1096.22L1354.03 1096.1L1354.77 1095.97L1355.51 1095.84L1356.24 1095.71L1356.97 1095.58L1357.7 1095.45L1358.42 1095.32L1359.14 1095.18L1359.86 1095.05L1360.57 1094.92L1361.28 1094.79L1361.99 1094.66L1362.69 1094.53L1363.39 1094.4L1364.09 1094.28L1364.78 1094.15L1365.47 1094.03L1366.16 1093.91L1366.84 1093.79L1367.52 1093.68L1368.2 1093.57L1368.88 1093.46L1369.55 1093.35L1370.22 1093.25L1370.88 1093.16L1371.54 1093.06L1372.2 1092.97L1372.86 1092.88L1373.51 1092.8L1374.16 1092.71L1374.81 1092.61L1375.46 1092.52L1376.1 1092.43L1376.74 1092.34L1377.38 1092.25L1378.01 1092.16L1378.64 1092.06L1379.27 1091.97L1379.9 1091.88L1380.52 1091.79L1381.14 1091.7L1381.76 1091.61L1382.38 1091.51L1382.99 1091.42L1383.6 1091.33L1384.21 1091.25L1384.82 1091.16L1385.42 1091.07L1386.02 1090.98L1387.22 1090.81L1388.4 1090.64L1389.58 1090.48L1390.75 1090.32L1391.9 1090.17L1393.05 1090.03L1394.19 1089.89L1395.33 1089.75L1396.45 1089.63L1397.56 1089.51L1398.67 1089.4L1399.77 1089.3L1400.86 1089.21L1401.94 1089.13L1403.02 1089.06L1404.08 1089L1405.14 1088.94L1406.2 1088.89L1407.24 1088.83L1408.28 1088.78L1409.31 1088.73L1410.33 1088.69L1411.35 1088.65L1412.36 1088.61L1413.36 1088.58L1414.36 1088.56L1415.35 1088.55L1416.33 1088.54L1417.31 1088.54L1418.28 1088.56L1419.24 1088.58L1420.2 1088.62L1421.15 1088.66L1422.09 1088.72L1423.03 1088.8L1423.97 1088.89L1424.9 1089L1425.82 1089.12L1426.73 1089.27L1427.65 1089.43L1428.55 1089.62L1429.45 1089.83L1430.35 1090.07L1431.23 1090.33L1432.12 1090.62L1433 1090.92L1433.87 1091.25L1434.74 1091.59L1435.6 1091.95L1436.46 1092.33L1437.32 1092.71L1438.16 1093.11L1439.01 1093.51L1439.85 1093.91L1440.68 1094.32L1441.51 1094.72L1442.34 1095.12L1443.16 1095.51L1443.97 1095.89L1444.79 1096.27L1445.59 1096.65L1446.4 1097.04L1447.2 1097.43L1447.99 1097.82L1448.78 1098.21L1449.57 1098.6L1450.35 1099L1451.13 1099.41L1451.9 1099.81L1452.67 1100.22L1453.44 1100.63L1454.2 1101.04L1454.96 1101.45L1455.71 1101.87L1456.46 1102.29L1457.21 1102.71L1457.95 1103.14L1458.69 1103.56L1459.43 1103.99L1460.16 1104.42L1460.89 1104.85L1461.62 1105.29L1462.34 1105.72L1463.06 1106.16L1463.77 1106.6L1464.48 1107.05L1465.19 1107.49L1465.9 1107.94L1466.6 1108.39L1467.3 1108.84L1467.99 1109.3L1468.68 1109.75L1469.37 1110.21L1470.06 1110.67L1470.74 1111.13L1471.42 1111.59L1472.09 1112.05L1472.77 1112.52L1473.44 1112.98L1474.1 1113.45L1474.77 1113.91L1475.43 1114.38L1476.09 1114.85L1476.74 1115.32L1477.39 1115.78L1478.04 1116.25L1478.69 1116.72L1479.33 1117.19L1479.97 1117.66L1480.61 1118.14L1481.25 1118.61L1481.88 1119.08L1482.51 1119.56L1483.14 1120.03L1483.77 1120.51L1484.39 1120.98L1485.01 1121.46L1485.62 1121.94L1486.24 1122.43L1486.85 1122.91L1487.46 1123.4L1488.07 1123.88L1488.67 1124.37L1489.28 1124.87L1490.18 1125.61L1491.07 1126.36L1491.96 1127.12L1492.84 1127.88L1493.72 1128.66L1494.59 1129.44L1495.46 1130.24L1496.32 1131.03L1497.18 1131.84L1498.03 1132.66L1498.88 1133.48L1499.72 1134.3L1500.56 1135.14L1501.4 1135.97L1502.23 1136.82L1503.05 1137.66L1503.87 1138.51L1504.69 1139.36L1505.5 1140.21L1506.3 1141.06L1507.11 1141.91L1507.9 1142.76L1508.7 1143.62L1509.49 1144.48L1510.27 1145.34L1511.06 1146.22L1511.83 1147.1L1512.61 1148L1513.38 1148.92L1514.14 1149.84L1514.9 1150.79L1515.66 1151.75L1516.41 1152.72L1517.16 1153.71L1517.91 1154.72L1518.65 1155.75L1519.39 1156.79L1520.13 1157.84L1520.86 1158.9L1521.59 1159.97L1522.31 1161.05L1523.03 1162.13L1523.75 1163.22L1524.47 1164.3L1525.18 1165.4L1525.88 1166.49L1526.59 1167.58L1527.29 1168.67L1527.99 1169.76L1528.68 1170.84L1529.37 1171.92L1530.06 1173L1530.74 1174.07L1531.43 1175.13L1532.1 1176.19L1532.78 1177.24L1533.45 1178.28L1534.12 1179.33L1534.79 1180.37L1535.45 1181.41L1536.11 1182.45L1536.77 1183.49L1537.43 1184.53L1538.08 1185.57L1538.73 1186.61L1539.37 1187.64L1540.02 1188.67L1540.66 1189.7L1541.29 1190.73L1541.93 1191.76L1542.56 1192.78L1543.19 1193.8L1543.82 1194.82L1544.44 1195.84L1545.07 1196.86L1545.69 1197.87L1546.3 1198.88L1546.92 1199.89L1547.53 1200.9L1548.14 1201.9L1548.75 1202.9L1549.35 1203.89L1549.95 1204.86L1550.75 1206.15L1551.55 1207.41L1552.34 1208.66L1553.12 1209.9L1553.9 1211.13L1554.68 1212.36L1555.46 1213.59L1556.23 1214.82L1556.99 1216.06L1557.76 1217.3L1558.51 1218.56L1559.27 1219.82L1560.02 1221.11L1560.77 1222.42L1561.51 1223.75L1562.25 1225.12L1562.98 1226.52L1563.72 1227.97L1564.45 1229.48L1565.17 1231.03L1565.89 1232.65L1566.61 1234.3L1567.33 1236L1568.04 1237.76L1568.75 1239.57L1569.45 1241.42L1570.15 1243.33L1570.85 1245.3L1571.54 1247.32L1572.24 1249.39L1572.92 1251.52L1573.61 1253.71L1574.29 1255.94L1574.97 1258.23L1575.65 1260.57L1576.32 1262.97L1576.99 1265.48L1577.66 1268.12L1578.32 1270.88L1578.98 1273.79L1579.64 1276.84L1580.3 1280.03L1580.95 1283.36L1581.6 1286.84L1582.24 1290.44L1582.89 1294.15L1583.53 1298.05L1584.17 1302.36L1584.8 1307.13L1585.44 1312.3L1586.07 1317.72L1586.69 1323.18L1587.32 1328.42L1587.44 1329.39L1587.63 1330.9l0 0.6"/>
<path stroke="#40f608" d="M561.73 430.6L665.28 547.1L725.86 625L768.84 678L802.18 702L829.41 721L852.44 761.5L872.39 792L889.99 814.3L905.73 826.4L919.97 831.2L932.97 833.3L944.93 833.9L956 833.3L966.31 832L975.95 831L985 831.08L993.54 831.54L1001.62 832.22L1009.28 833.1L1016.57 834.14L1023.52 835.35L1030.16 836.69L1036.52 838.13L1042.62 839.68L1048.48 841.32L1054.12 842.92L1059.55 844.89L1064.79 847.71L1069.86 851.23L1074.76 855.42L1079.5 860.33L1084.1 866.18L1088.56 872.88L1092.89 880.15L1097.1 887.92L1101.19 896.64L1105.18 905.84L1109.06 914.8L1112.84 923.18L1116.53 931.52L1120.13 939.59L1123.64 947.12L1127.08 953.91L1130.43 960.28L1133.72 966.28L1136.93 971.74L1140.08 976.56L1143.16 980.71L1146.18 984.42L1149.13 987.77L1152.03 990.72L1154.88 993.24L1157.67 995.33L1160.41 997L1163.11 998.35L1165.75 999.43L1168.35 1000.27L1170.9 1000.9L1173.41 1001.34L1175.88 1001.59L1178.31 1001.57L1180.7 1001.35L1183.06 1000.99L1185.37 1000.56L1187.65 1000.1L1189.9 999.66L1192.11 999.26L1194.29 998.79L1196.44 998.27L1198.56 997.73L1200.65 997.21L1202.71 996.73L1204.75 996.32L1206.75 996.01L1208.73 995.76L1210.68 995.55L1212.61 995.38L1214.51 995.28L1216.39 995.26L1218.25 995.33L1220.08 995.5L1221.89 995.74L1223.68 996.03L1225.45 996.38L1227.2 996.78L1228.92 997.24L1230.63 997.76L1232.32 998.34L1233.99 999L1235.64 999.73L1237.27 1000.55L1238.89 1001.44L1240.49 1002.41L1242.07 1003.45L1243.63 1004.57L1245.18 1005.75L1246.71 1007L1248.23 1008.3L1249.73 1009.66L1251.22 1011.05L1252.69 1012.49L1254.15 1014L1255.59 1015.6L1257.02 1017.26L1258.43 1018.97L1259.84 1020.72L1261.23 1022.5L1262.6 1024.29L1263.97 1026.1L1265.32 1027.91L1266.66 1029.72L1267.99 1031.53L1269.3 1033.31L1270.61 1035.07L1271.9 1036.81L1273.19 1038.51L1274.46 1040.17L1275.72 1041.77L1276.97 1043.33L1278.21 1044.88L1279.44 1046.42L1280.66 1047.95L1281.87 1049.47L1283.07 1050.97L1284.26 1052.46L1285.44 1053.91L1286.61 1055.34L1287.77 1056.73L1288.93 1058.09L1290.07 1059.41L1291.21 1060.69L1292.33 1061.93L1293.45 1063.13L1294.56 1064.31L1295.67 1065.47L1296.76 1066.59L1297.85 1067.7L1298.93 1068.78L1300 1069.83L1301.06 1070.86L1302.12 1071.87L1303.17 1072.85L1304.21 1073.81L1305.24 1074.74L1306.27 1075.66L1307.29 1076.55L1308.3 1077.41L1309.31 1078.27L1310.31 1079.11L1311.3 1079.95L1312.28 1080.77L1313.26 1081.58L1314.24 1082.37L1315.2 1083.14L1316.16 1083.89L1317.12 1084.61L1318.07 1085.31L1319.01 1085.99L1319.95 1086.64L1320.88 1087.25L1321.8 1087.84L1322.72 1088.4L1323.64 1088.93L1324.54 1089.42L1325.45 1089.89L1326.34 1090.34L1327.24 1090.76L1328.12 1091.16L1329 1091.55L1329.88 1091.91L1330.75 1092.26L1331.62 1092.59L1332.48 1092.9L1333.33 1093.19L1334.19 1093.47L1335.03 1093.72L1335.87 1093.96L1336.71 1094.19L1337.54 1094.39L1338.37 1094.58L1339.19 1094.76L1340.01 1094.91L1340.83 1095.05L1341.64 1095.17L1342.44 1095.27L1343.24 1095.35L1344.04 1095.42L1344.83 1095.46L1345.62 1095.5L1346.41 1095.52L1347.19 1095.52L1347.96 1095.52L1348.73 1095.5L1349.5 1095.48L1350.27 1095.44L1351.03 1095.4L1351.78 1095.35L1352.54 1095.3L1353.28 1095.24L1354.03 1095.18L1354.77 1095.11L1355.51 1095.05L1356.24 1094.97L1356.97 1094.89L1357.7 1094.8L1358.42 1094.7L1359.14 1094.58L1359.86 1094.46L1360.57 1094.33L1361.28 1094.19L1361.99 1094.05L1362.69 1093.9L1363.39 1093.75L1364.09 1093.6L1364.78 1093.45L1365.47 1093.29L1366.16 1093.14L1366.84 1092.98L1367.52 1092.83L1368.2 1092.68L1368.88 1092.53L1369.55 1092.39L1370.22 1092.25L1370.88 1092.12L1371.54 1091.99L1372.2 1091.87L1372.86 1091.76L1373.51 1091.65L1374.16 1091.54L1374.81 1091.43L1375.46 1091.33L1376.1 1091.23L1376.74 1091.13L1377.38 1091.04L1378.01 1090.94L1378.64 1090.85L1379.27 1090.76L1379.9 1090.67L1380.52 1090.58L1381.14 1090.49L1381.76 1090.4L1382.38 1090.31L1382.99 1090.22L1383.6 1090.14L1384.21 1090.05L1384.82 1089.96L1385.42 1089.88L1386.02 1089.79L1387.22 1089.62L1388.4 1089.44L1389.58 1089.27L1390.75 1089.08L1391.9 1088.9L1393.05 1088.71L1394.19 1088.52L1395.33 1088.34L1396.45 1088.15L1397.56 1087.98L1398.67 1087.8L1399.77 1087.64L1400.86 1087.48L1401.94 1087.34L1403.02 1087.2L1404.08 1087.07L1405.14 1086.95L1406.2 1086.83L1407.24 1086.7L1408.28 1086.58L1409.31 1086.45L1410.33 1086.33L1411.35 1086.21L1412.36 1086.09L1413.36 1085.97L1414.36 1085.87L1415.35 1085.76L1416.33 1085.67L1417.31 1085.58L1418.28 1085.5L1419.24 1085.43L1420.2 1085.37L1421.15 1085.32L1422.09 1085.28L1423.03 1085.25L1423.97 1085.23L1424.9 1085.22L1425.82 1085.23L1426.73 1085.25L1427.65 1085.28L1428.55 1085.32L1429.45 1085.38L1430.35 1085.44L1431.23 1085.52L1432.12 1085.61L1433 1085.7L1433.87 1085.8L1434.74 1085.91L1435.6 1086.03L1436.46 1086.15L1437.32 1086.28L1438.16 1086.41L1439.01 1086.55L1439.85 1086.7L1440.68 1086.84L1441.51 1086.99L1442.34 1087.15L1443.16 1087.31L1443.97 1087.47L1444.79 1087.63L1445.59 1087.79L1446.4 1087.96L1447.2 1088.13L1447.99 1088.3L1448.78 1088.47L1449.57 1088.64L1450.35 1088.81L1451.13 1088.99L1451.9 1089.16L1452.67 1089.33L1453.44 1089.51L1454.2 1089.68L1454.96 1089.85L1455.71 1090.03L1456.46 1090.2L1457.21 1090.37L1457.95 1090.53L1458.69 1090.7L1459.43 1090.87L1460.16 1091.03L1460.89 1091.19L1461.62 1091.35L1462.34 1091.51L1463.06 1091.67L1463.77 1091.83L1464.48 1091.99L1465.19 1092.15L1465.9 1092.31L1466.6 1092.47L1467.3 1092.63L1467.99 1092.79L1468.68 1092.95L1469.37 1093.11L1470.06 1093.27L1470.74 1093.43L1471.42 1093.6L1472.09 1093.76L1472.77 1093.93L1473.44 1094.1L1474.1 1094.27L1474.77 1094.44L1475.43 1094.61L1476.09 1094.79L1476.74 1094.97L1477.39 1095.15L1478.04 1095.33L1478.69 1095.52L1479.33 1095.71L1479.97 1095.9L1480.61 1096.09L1481.25 1096.29L1481.88 1096.49L1482.51 1096.7L1483.14 1096.9L1483.77 1097.11L1484.39 1097.33L1485.01 1097.55L1485.62 1097.77L1486.24 1098L1486.85 1098.23L1487.46 1098.46L1488.07 1098.7L1488.67 1098.94L1489.28 1099.2L1490.18 1099.58L1491.07 1099.97L1491.96 1100.38L1492.84 1100.79L1493.72 1101.22L1494.59 1101.65L1495.46 1102.09L1496.32 1102.54L1497.18 1103.01L1498.03 1103.47L1498.88 1103.94L1499.72 1104.42L1500.56 1104.91L1501.4 1105.4L1502.23 1105.9L1503.05 1106.4L1503.87 1106.9L1504.69 1107.41L1505.5 1107.92L1506.3 1108.43L1507.11 1108.95L1507.9 1109.46L1508.7 1109.98L1509.49 1110.5L1510.27 1111.01L1511.06 1111.53L1511.83 1112.05L1512.61 1112.56L1513.38 1113.08L1514.14 1113.59L1514.9 1114.1L1515.66 1114.61L1516.41 1115.11L1517.16 1115.62L1517.91 1116.11L1518.65 1116.61L1519.39 1117.1L1520.13 1117.58L1520.86 1118.07L1521.59 1118.56L1522.31 1119.04L1523.03 1119.53L1523.75 1120.01L1524.47 1120.5L1525.18 1120.99L1525.88 1121.47L1526.59 1121.96L1527.29 1122.44L1527.99 1122.93L1528.68 1123.41L1529.37 1123.9L1530.06 1124.38L1530.74 1124.87L1531.43 1125.35L1532.1 1125.83L1532.78 1126.31L1533.45 1126.79L1534.12 1127.27L1534.79 1127.75L1535.45 1128.23L1536.11 1128.71L1536.77 1129.19L1537.43 1129.67L1538.08 1130.14L1538.73 1130.62L1539.37 1131.09L1540.02 1131.57L1540.66 1132.04L1541.29 1132.52L1541.93 1132.99L1542.56 1133.46L1543.19 1133.93L1543.82 1134.4L1544.44 1134.87L1545.07 1135.34L1545.69 1135.81L1546.3 1136.28L1546.92 1136.74L1547.53 1137.21L1548.14 1137.68L1548.75 1138.14L1549.35 1138.61L1549.95 1139.07L1550.75 1139.69L1551.55 1140.31L1552.34 1140.93L1553.12 1141.53L1553.9 1142.12L1554.68 1142.71L1555.46 1143.29L1556.23 1143.87L1556.99 1144.44L1557.76 1145.02L1558.51 1145.6L1559.27 1146.19L1560.02 1146.79L1560.77 1147.4L1561.51 1148.02L1562.25 1148.67L1562.98 1149.34L1563.72 1150.04L1564.45 1150.77L1565.17 1151.53L1565.89 1152.34L1566.61 1153.2L1567.33 1154.11L1568.04 1155.06L1568.75 1156.07L1569.45 1157.13L1570.15 1158.25L1570.85 1159.41L1571.54 1160.62L1572.24 1161.89L1572.92 1163.19L1573.61 1164.52L1574.29 1165.89L1574.97 1167.27L1575.65 1168.66L1576.32 1170.06L1576.99 1171.47L1577.66 1172.92L1578.32 1174.4L1578.98 1175.93L1579.64 1177.49L1580.3 1179.11L1580.95 1180.79L1581.6 1182.53L1582.24 1184.36L1582.89 1186.28L1583.53 1188.34L1584.17 1190.57L1584.8 1193.19L1585.44 1196.3L1586.07 1200L1586.69 1204.05L1587.32 1207.95L1587.48 1208.86L1587.63 1209.7l0 0.6"/>
<path stroke="#f90cbe" d="M561.73 369.6L665.28 480L725.86 553.5L768.84 618.5L802.18 665.1L829.41 698L852.44 718.8L872.39 731.7L889.99 741.3L905.73 750.1L919.97 760L932.97 770L944.93 784L956 794.5L966.31 806.5L975.95 817.5L985 826.5L993.54 833.5L1001.62 839.26L1009.28 845.65L1016.57 851.17L1023.52 855.69L1030.16 859.91L1036.52 864.18L1042.62 868.23L1048.48 871.72L1054.12 874.51L1059.55 877.27L1064.79 880.64L1069.86 884.47L1074.76 888.64L1079.5 893.08L1084.1 898.02L1088.56 903.22L1092.89 908.23L1097.1 912.77L1101.19 917.07L1105.18 921.17L1109.06 925.13L1112.84 928.99L1116.53 932.78L1120.13 936.43L1123.64 939.87L1127.08 943.03L1130.43 945.93L1133.72 948.63L1136.93 951.18L1140.08 953.6L1143.16 955.92L1146.18 958.1L1149.13 960.16L1152.03 962.14L1154.88 964.07L1157.67 965.99L1160.41 967.91L1163.11 969.87L1165.75 971.81L1168.35 973.69L1170.9 975.47L1173.41 977.11L1175.88 978.59L1178.31 979.95L1180.7 981.21L1183.06 982.39L1185.37 983.51L1187.65 984.57L1189.9 985.59L1192.11 986.59L1194.29 987.54L1196.44 988.45L1198.56 989.32L1200.65 990.15L1202.71 990.94L1204.75 991.68L1206.75 992.38L1208.73 993.03L1210.68 993.6L1212.61 994.13L1214.51 994.64L1216.39 995.13L1218.25 995.62L1220.08 996.13L1221.89 996.68L1223.68 997.25L1225.45 997.82L1227.2 998.37L1228.92 998.92L1230.63 999.48L1232.32 1000.07L1233.99 1000.7L1235.64 1001.38L1237.27 1002.14L1238.89 1002.99L1240.49 1003.97L1242.07 1005.07L1243.63 1006.28L1245.18 1007.57L1246.71 1008.94L1248.23 1010.34L1249.73 1011.75L1251.22 1013.16L1252.69 1014.63L1254.15 1016.16L1255.59 1017.73L1257.02 1019.32L1258.43 1020.91L1259.84 1022.48L1261.23 1024.04L1262.6 1025.61L1263.97 1027.19L1265.32 1028.77L1266.66 1030.35L1267.99 1031.91L1269.3 1033.47L1270.61 1035.01L1271.9 1036.53L1273.19 1038.02L1274.46 1039.5L1275.72 1040.94L1276.97 1042.36L1278.21 1043.77L1279.44 1045.18L1280.66 1046.57L1281.87 1047.95L1283.07 1049.32L1284.26 1050.66L1285.44 1051.98L1286.61 1053.27L1287.77 1054.53L1288.93 1055.76L1290.07 1056.96L1291.21 1058.12L1292.33 1059.24L1293.45 1060.33L1294.56 1061.4L1295.67 1062.45L1296.76 1063.48L1297.85 1064.49L1298.93 1065.47L1300 1066.43L1301.06 1067.36L1302.12 1068.27L1303.17 1069.15L1304.21 1070L1305.24 1070.83L1306.27 1071.62L1307.29 1072.39L1308.3 1073.13L1309.31 1073.83L1310.31 1074.49L1311.3 1075.12L1312.28 1075.72L1313.26 1076.3L1314.24 1076.85L1315.2 1077.39L1316.16 1077.91L1317.12 1078.42L1318.07 1078.93L1319.01 1079.43L1319.95 1079.94L1320.88 1080.44L1321.8 1080.95L1322.72 1081.46L1323.64 1081.99L1324.54 1082.53L1325.45 1083.08L1326.34 1083.66L1327.24 1084.25L1328.12 1084.85L1329 1085.45L1329.88 1086.06L1330.75 1086.66L1331.62 1087.27L1332.48 1087.86L1333.33 1088.44L1334.19 1089L1335.03 1089.55L1335.87 1090.07L1336.71 1090.57L1337.54 1091.04L1338.37 1091.49L1339.19 1091.9L1340.01 1092.29L1340.83 1092.64L1341.64 1092.97L1342.44 1093.28L1343.24 1093.58L1344.04 1093.86L1344.83 1094.12L1345.62 1094.37L1346.41 1094.61L1347.19 1094.83L1347.96 1095.04L1348.73 1095.24L1349.5 1095.42L1350.27 1095.59L1351.03 1095.74L1351.78 1095.88L1352.54 1096.01L1353.28 1096.13L1354.03 1096.24L1354.77 1096.33L1355.51 1096.4L1356.24 1096.47L1356.97 1096.52L1357.7 1096.56L1358.42 1096.57L1359.14 1096.58L1359.86 1096.56L1360.57 1096.53L1361.28 1096.49L1361.99 1096.43L1362.69 1096.37L1363.39 1096.3L1364.09 1096.21L1364.78 1096.13L1365.47 1096.03L1366.16 1095.93L1366.84 1095.83L1367.52 1095.72L1368.2 1095.61L1368.88 1095.5L1369.55 1095.39L1370.22 1095.28L1370.88 1095.18L1371.54 1095.07L1372.2 1094.97L1372.86 1094.86L1373.51 1094.75L1374.16 1094.63L1374.81 1094.51L1375.46 1094.38L1376.1 1094.25L1376.74 1094.12L1377.38 1093.98L1378.01 1093.84L1378.64 1093.7L1379.27 1093.56L1379.9 1093.42L1380.52 1093.27L1381.14 1093.13L1381.76 1092.99L1382.38 1092.84L1382.99 1092.7L1383.6 1092.57L1384.21 1092.43L1384.82 1092.3L1385.42 1092.16L1386.02 1092.04L1387.22 1091.79L1388.4 1091.56L1389.58 1091.33L1390.75 1091.09L1391.9 1090.85L1393.05 1090.6L1394.19 1090.35L1395.33 1090.09L1396.45 1089.84L1397.56 1089.6L1398.67 1089.36L1399.77 1089.13L1400.86 1088.91L1401.94 1088.7L1403.02 1088.5L1404.08 1088.32L1405.14 1088.15L1406.2 1088L1407.24 1087.86L1408.28 1087.75L1409.31 1087.65L1410.33 1087.58L1411.35 1087.53L1412.36 1087.51L1413.36 1087.51L1414.36 1087.53L1415.35 1087.56L1416.33 1087.62L1417.31 1087.69L1418.28 1087.77L1419.24 1087.86L1420.2 1087.97L1421.15 1088.09L1422.09 1088.22L1423.03 1088.36L1423.97 1088.51L1424.9 1088.67L1425.82 1088.84L1426.73 1089.01L1427.65 1089.2L1428.55 1089.39L1429.45 1089.59L1430.35 1089.79L1431.23 1090L1432.12 1090.22L1433 1090.45L1433.87 1090.68L1434.74 1090.91L1435.6 1091.15L1436.46 1091.4L1437.32 1091.66L1438.16 1091.93L1439.01 1092.21L1439.85 1092.51L1440.68 1092.83L1441.51 1093.15L1442.34 1093.5L1443.16 1093.85L1443.97 1094.21L1444.79 1094.59L1445.59 1094.97L1446.4 1095.35L1447.2 1095.74L1447.99 1096.13L1448.78 1096.52L1449.57 1096.9L1450.35 1097.28L1451.13 1097.66L1451.9 1098.03L1452.67 1098.39L1453.44 1098.75L1454.2 1099.11L1454.96 1099.46L1455.71 1099.81L1456.46 1100.16L1457.21 1100.51L1457.95 1100.85L1458.69 1101.2L1459.43 1101.55L1460.16 1101.89L1460.89 1102.24L1461.62 1102.58L1462.34 1102.93L1463.06 1103.27L1463.77 1103.62L1464.48 1103.97L1465.19 1104.31L1465.9 1104.66L1466.6 1105.01L1467.3 1105.36L1467.99 1105.71L1468.68 1106.06L1469.37 1106.42L1470.06 1106.77L1470.74 1107.13L1471.42 1107.49L1472.09 1107.85L1472.77 1108.21L1473.44 1108.57L1474.1 1108.94L1474.77 1109.31L1475.43 1109.68L1476.09 1110.05L1476.74 1110.42L1477.39 1110.8L1478.04 1111.17L1478.69 1111.55L1479.33 1111.92L1479.97 1112.3L1480.61 1112.67L1481.25 1113.05L1481.88 1113.43L1482.51 1113.8L1483.14 1114.18L1483.77 1114.56L1484.39 1114.93L1485.01 1115.31L1485.62 1115.69L1486.24 1116.06L1486.85 1116.44L1487.46 1116.82L1488.07 1117.19L1488.67 1117.57L1489.28 1117.95L1490.18 1118.51L1491.07 1119.07L1491.96 1119.64L1492.84 1120.2L1493.72 1120.76L1494.59 1121.33L1495.46 1121.89L1496.32 1122.45L1497.18 1123.02L1498.03 1123.58L1498.88 1124.14L1499.72 1124.71L1500.56 1125.27L1501.4 1125.84L1502.23 1126.41L1503.05 1126.97L1503.87 1127.54L1504.69 1128.12L1505.5 1128.69L1506.3 1129.27L1507.11 1129.85L1507.9 1130.43L1508.7 1131.02L1509.49 1131.61L1510.27 1132.21L1511.06 1132.81L1511.83 1133.42L1512.61 1134.04L1513.38 1134.66L1514.14 1135.28L1514.9 1135.92L1515.66 1136.55L1516.41 1137.2L1517.16 1137.84L1517.91 1138.49L1518.65 1139.15L1519.39 1139.81L1520.13 1140.47L1520.86 1141.13L1521.59 1141.79L1522.31 1142.45L1523.03 1143.11L1523.75 1143.77L1524.47 1144.43L1525.18 1145.09L1525.88 1145.74L1526.59 1146.4L1527.29 1147.06L1527.99 1147.72L1528.68 1148.38L1529.37 1149.04L1530.06 1149.7L1530.74 1150.37L1531.43 1151.03L1532.1 1151.7L1532.78 1152.37L1533.45 1153.05L1534.12 1153.73L1534.79 1154.41L1535.45 1155.09L1536.11 1155.78L1536.77 1156.48L1537.43 1157.17L1538.08 1157.88L1538.73 1158.59L1539.37 1159.3L1540.02 1160.02L1540.66 1160.74L1541.29 1161.48L1541.93 1162.21L1542.56 1162.96L1543.19 1163.71L1543.82 1164.46L1544.44 1165.22L1545.07 1165.98L1545.69 1166.75L1546.3 1167.53L1546.92 1168.3L1547.53 1169.08L1548.14 1169.86L1548.75 1170.65L1549.35 1171.44L1549.95 1172.23L1550.75 1173.28L1551.55 1174.34L1552.34 1175.4L1553.12 1176.45L1553.9 1177.51L1554.68 1178.57L1555.46 1179.62L1556.23 1180.67L1556.99 1181.72L1557.76 1182.76L1558.51 1183.8L1559.27 1184.84L1560.02 1185.88L1560.77 1186.92L1561.51 1187.96L1562.25 1189.01L1562.98 1190.07L1563.72 1191.13L1564.45 1192.2L1565.17 1193.27L1565.89 1194.36L1566.61 1195.46L1567.33 1196.58L1568.04 1197.72L1568.75 1198.87L1569.45 1200.05L1570.15 1201.27L1570.85 1202.5L1571.54 1203.77L1572.24 1205.06L1572.92 1206.38L1573.61 1207.73L1574.29 1209.11L1574.97 1210.51L1575.65 1211.95L1576.32 1213.42L1576.99 1214.91L1577.66 1216.43L1578.32 1217.97L1578.98 1219.54L1579.64 1221.12L1580.3 1222.73L1580.95 1224.4L1581.6 1226.14L1582.24 1227.94L1582.89 1229.8L1583.53 1231.71L1584.17 1233.64L1584.8 1235.6L1585.44 1237.56L1586.07 1239.51L1586.69 1241.42L1587.32 1243.29L1587.63 1244.2l0 0.6"/>
<path stroke="#0ce4f6" d="M561.73 440.1L665.28 551.4L725.86 631.5L768.84 684L802.18 716L829.41 741L852.44 773L872.39 790L889.99 801.5L905.73 807.3L919.97 811.25L932.97 814.2L944.93 816.05L956 817.5L966.31 818.89L975.95 820.7L985 823.44L993.54 826.53L1001.62 829.63L1009.28 832.88L1016.57 836.01L1023.52 839L1030.16 841.55L1036.52 843.33L1042.62 844.86L1048.48 846.76L1054.12 848.82L1059.55 851.31L1064.79 854.67L1069.86 858.86L1074.76 863.77L1079.5 869.41L1084.1 876.2L1088.56 883.89L1092.89 891.68L1097.1 899.01L1101.19 906.27L1105.18 913.5L1109.06 920.69L1112.84 927.88L1116.53 935.2L1120.13 942.43L1123.64 949.38L1127.08 955.89L1130.43 962.15L1133.72 968.22L1136.93 973.92L1140.08 979.14L1143.16 983.81L1146.18 988.06L1149.13 991.98L1152.03 995.58L1154.88 998.9L1157.67 1001.93L1160.41 1004.71L1163.11 1007.23L1165.75 1009.54L1168.35 1011.67L1170.9 1013.67L1173.41 1015.56L1175.88 1017.35L1178.31 1019.05L1180.7 1020.66L1183.06 1022.16L1185.37 1023.57L1187.65 1024.86L1189.9 1026.05L1192.11 1027.13L1194.29 1028.11L1196.44 1028.99L1198.56 1029.8L1200.65 1030.55L1202.71 1031.24L1204.75 1031.88L1206.75 1032.49L1208.73 1033.03L1210.68 1033.5L1212.61 1033.92L1214.51 1034.3L1216.39 1034.67L1218.25 1035.02L1220.08 1035.39L1221.89 1035.77L1223.68 1036.18L1225.45 1036.6L1227.2 1037.01L1228.92 1037.43L1230.63 1037.84L1232.32 1038.26L1233.99 1038.68L1235.64 1039.11L1237.27 1039.55L1238.89 1040L1240.49 1040.43L1242.07 1040.84L1243.63 1041.24L1245.18 1041.67L1246.71 1042.14L1248.23 1042.7L1249.73 1043.37L1251.22 1044.16L1252.69 1045.06L1254.15 1046.08L1255.59 1047.17L1257.02 1048.31L1258.43 1049.47L1259.84 1050.62L1261.23 1051.77L1262.6 1052.94L1263.97 1054.14L1265.32 1055.35L1266.66 1056.58L1267.99 1057.8L1269.3 1059.03L1270.61 1060.24L1271.9 1061.45L1273.19 1062.64L1274.46 1063.82L1275.72 1064.97L1276.97 1066.11L1278.21 1067.25L1279.44 1068.39L1280.66 1069.53L1281.87 1070.67L1283.07 1071.79L1284.26 1072.9L1285.44 1073.99L1286.61 1075.06L1287.77 1076.1L1288.93 1077.12L1290.07 1078.1L1291.21 1079.04L1292.33 1079.95L1293.45 1080.83L1294.56 1081.7L1295.67 1082.56L1296.76 1083.4L1297.85 1084.22L1298.93 1085.02L1300 1085.79L1301.06 1086.54L1302.12 1087.26L1303.17 1087.96L1304.21 1088.62L1305.24 1089.25L1306.27 1089.85L1307.29 1090.42L1308.3 1090.95L1309.31 1091.45L1310.31 1091.93L1311.3 1092.39L1312.28 1092.83L1313.26 1093.25L1314.24 1093.64L1315.2 1094.02L1316.16 1094.37L1317.12 1094.7L1318.07 1095.02L1319.01 1095.31L1319.95 1095.58L1320.88 1095.83L1321.8 1096.05L1322.72 1096.26L1323.64 1096.44L1324.54 1096.61L1325.45 1096.74L1326.34 1096.86L1327.24 1096.94L1328.12 1097.01L1329 1097.06L1329.88 1097.08L1330.75 1097.1L1331.62 1097.1L1332.48 1097.08L1333.33 1097.06L1334.19 1097.02L1335.03 1096.98L1335.87 1096.93L1336.71 1096.88L1337.54 1096.82L1338.37 1096.76L1339.19 1096.7L1340.01 1096.64L1340.83 1096.57L1341.64 1096.5L1342.44 1096.42L1343.24 1096.33L1344.04 1096.23L1344.83 1096.13L1345.62 1096.02L1346.41 1095.9L1347.19 1095.78L1347.96 1095.65L1348.73 1095.52L1349.5 1095.39L1350.27 1095.26L1351.03 1095.13L1351.78 1095L1352.54 1094.86L1353.28 1094.74L1354.03 1094.61L1354.77 1094.49L1355.51 1094.37L1356.24 1094.25L1356.97 1094.14L1357.7 1094.04L1358.42 1093.93L1359.14 1093.82L1359.86 1093.71L1360.57 1093.6L1361.28 1093.5L1361.99 1093.39L1362.69 1093.29L1363.39 1093.18L1364.09 1093.08L1364.78 1092.97L1365.47 1092.87L1366.16 1092.77L1366.84 1092.66L1367.52 1092.56L1368.2 1092.46L1368.88 1092.36L1369.55 1092.26L1370.22 1092.16L1370.88 1092.06L1371.54 1091.96L1372.2 1091.86L1372.86 1091.76L1373.51 1091.66L1374.16 1091.56L1374.81 1091.47L1375.46 1091.37L1376.1 1091.27L1376.74 1091.17L1377.38 1091.07L1378.01 1090.97L1378.64 1090.88L1379.27 1090.78L1379.9 1090.68L1380.52 1090.59L1381.14 1090.49L1381.76 1090.4L1382.38 1090.31L1382.99 1090.21L1383.6 1090.12L1384.21 1090.03L1384.82 1089.94L1385.42 1089.86L1386.02 1089.77L1387.22 1089.6L1388.4 1089.44L1389.58 1089.28L1390.75 1089.12L1391.9 1088.97L1393.05 1088.81L1394.19 1088.66L1395.33 1088.51L1396.45 1088.36L1397.56 1088.22L1398.67 1088.09L1399.77 1087.97L1400.86 1087.85L1401.94 1087.74L1403.02 1087.64L1404.08 1087.55L1405.14 1087.47L1406.2 1087.39L1407.24 1087.31L1408.28 1087.24L1409.31 1087.17L1410.33 1087.11L1411.35 1087.05L1412.36 1087L1413.36 1086.96L1414.36 1086.93L1415.35 1086.9L1416.33 1086.89L1417.31 1086.89L1418.28 1086.9L1419.24 1086.93L1420.2 1086.97L1421.15 1087.02L1422.09 1087.09L1423.03 1087.16L1423.97 1087.24L1424.9 1087.33L1425.82 1087.43L1426.73 1087.54L1427.65 1087.66L1428.55 1087.79L1429.45 1087.93L1430.35 1088.07L1431.23 1088.22L1432.12 1088.38L1433 1088.55L1433.87 1088.73L1434.74 1088.92L1435.6 1089.11L1436.46 1089.32L1437.32 1089.53L1438.16 1089.75L1439.01 1089.99L1439.85 1090.24L1440.68 1090.49L1441.51 1090.76L1442.34 1091.03L1443.16 1091.31L1443.97 1091.6L1444.79 1091.89L1445.59 1092.19L1446.4 1092.49L1447.2 1092.79L1447.99 1093.09L1448.78 1093.4L1449.57 1093.7L1450.35 1094.01L1451.13 1094.31L1451.9 1094.61L1452.67 1094.91L1453.44 1095.21L1454.2 1095.51L1454.96 1095.81L1455.71 1096.12L1456.46 1096.42L1457.21 1096.73L1457.95 1097.04L1458.69 1097.35L1459.43 1097.66L1460.16 1097.97L1460.89 1098.28L1461.62 1098.59L1462.34 1098.9L1463.06 1099.21L1463.77 1099.52L1464.48 1099.83L1465.19 1100.14L1465.9 1100.45L1466.6 1100.75L1467.3 1101.06L1467.99 1101.37L1468.68 1101.67L1469.37 1101.97L1470.06 1102.27L1470.74 1102.57L1471.42 1102.87L1472.09 1103.17L1472.77 1103.46L1473.44 1103.76L1474.1 1104.05L1474.77 1104.34L1475.43 1104.62L1476.09 1104.91L1476.74 1105.19L1477.39 1105.47L1478.04 1105.74L1478.69 1106.01L1479.33 1106.28L1479.97 1106.54L1480.61 1106.81L1481.25 1107.07L1481.88 1107.33L1482.51 1107.59L1483.14 1107.84L1483.77 1108.1L1484.39 1108.36L1485.01 1108.62L1485.62 1108.88L1486.24 1109.14L1486.85 1109.4L1487.46 1109.67L1488.07 1109.94L1488.67 1110.21L1489.28 1110.48L1490.18 1110.91L1491.07 1111.33L1491.96 1111.78L1492.84 1112.23L1493.72 1112.67L1494.59 1113.12L1495.46 1113.56L1496.32 1114.01L1497.18 1114.46L1498.03 1114.91L1498.88 1115.36L1499.72 1115.83L1500.56 1116.3L1501.4 1116.78L1502.23 1117.27L1503.05 1117.77L1503.87 1118.28L1504.69 1118.81L1505.5 1119.36L1506.3 1119.92L1507.11 1120.51L1507.9 1121.11L1508.7 1121.74L1509.49 1122.4L1510.27 1123.09L1511.06 1123.8L1511.83 1124.54L1512.61 1125.31L1513.38 1126.09L1514.14 1126.89L1514.9 1127.71L1515.66 1128.53L1516.41 1129.37L1517.16 1130.21L1517.91 1131.05L1518.65 1131.89L1519.39 1132.73L1520.13 1133.56L1520.86 1134.38L1521.59 1135.19L1522.31 1135.98L1523.03 1136.76L1523.75 1137.52L1524.47 1138.26L1525.18 1138.99L1525.88 1139.7L1526.59 1140.4L1527.29 1141.09L1527.99 1141.78L1528.68 1142.46L1529.37 1143.13L1530.06 1143.79L1530.74 1144.46L1531.43 1145.12L1532.1 1145.78L1532.78 1146.43L1533.45 1147.09L1534.12 1147.74L1534.79 1148.4L1535.45 1149.06L1536.11 1149.72L1536.77 1150.38L1537.43 1151.05L1538.08 1151.72L1538.73 1152.4L1539.37 1153.08L1540.02 1153.77L1540.66 1154.47L1541.29 1155.17L1541.93 1155.88L1542.56 1156.59L1543.19 1157.3L1543.82 1158.01L1544.44 1158.72L1545.07 1159.44L1545.69 1160.16L1546.3 1160.88L1546.92 1161.6L1547.53 1162.32L1548.14 1163.05L1548.75 1163.78L1549.35 1164.51L1549.95 1165.24L1550.75 1166.21L1551.55 1167.19L1552.34 1168.18L1553.12 1169.16L1553.9 1170.15L1554.68 1171.13L1555.46 1172.12L1556.23 1173.12L1556.99 1174.11L1557.76 1175.09L1558.51 1176.07L1559.27 1177.05L1560.02 1178.01L1560.77 1178.98L1561.51 1179.95L1562.25 1180.91L1562.98 1181.88L1563.72 1182.85L1564.45 1183.83L1565.17 1184.81L1565.89 1185.8L1566.61 1186.8L1567.33 1187.82L1568.04 1188.84L1568.75 1189.88L1569.45 1190.95L1570.15 1192.03L1570.85 1193.14L1571.54 1194.28L1572.24 1195.46L1572.92 1196.68L1573.61 1197.94L1574.29 1199.24L1574.97 1200.58L1575.65 1201.96L1576.32 1203.39L1576.99 1204.86L1577.66 1206.38L1578.32 1207.95L1578.98 1209.58L1579.64 1211.27L1580.3 1213.01L1580.95 1214.82L1581.6 1216.7L1582.24 1218.64L1582.89 1220.72L1583.53 1223.03L1584.17 1225.58L1584.8 1228.37L1585.44 1231.37L1586.07 1234.46L1586.69 1237.53L1587.32 1240.43L1587.63 1241.8l0 0.6"/>
</g>
<path d="M501.15 1572.4v-9.6M501.15 101.4v9.6M561.73 1572.4v-9.6M561.73 101.4v9.6M604.71 1572.4v-9.6M604.71 101.4v9.6M638.05 1572.4v-9.6M638.05 101.4v9.6M665.28 1572.4v-9.6M665.28 101.4v9.6M688.31 1572.4v-9.6M688.31 101.4v9.6M708.26 1572.4v-9.6M708.26 101.4v9.6M725.86 1572.4v-9.6M725.86 101.4v9.6M741.6 1572.4v-16.7M741.6 101.4v16.7M845.15 1572.4v-9.6M845.15 101.4v9.6M905.73 1572.4v-9.6M905.73 101.4v9.6M948.71 1572.4v-9.6M948.71 101.4v9.6M982.05 1572.4v-9.6M982.05 101.4v9.6M1009.28 1572.4v-9.6M1009.28 101.4v9.6M1032.31 1572.4v-9.6M1032.31 101.4v9.6M1052.26 1572.4v-9.6M1052.26 101.4v9.6M1069.86 1572.4v-9.6M1069.86 101.4v9.6M1085.6 1572.4v-16.7M1085.6 101.4v16.7M1189.15 1572.4v-9.6M1189.15 101.4v9.6M1249.73 1572.4v-9.6M1249.73 101.4v9.6M1292.71 1572.4v-9.6M1292.71 101.4v9.6M1326.05 1572.4v-9.6M1326.05 101.4v9.6M1353.28 1572.4v-9.6M1353.28 101.4v9.6M1376.31 1572.4v-9.6M1376.31 101.4v9.6M1396.26 1572.4v-9.6M1396.26 101.4v9.6M1413.86 1572.4v-9.6M1413.86 101.4v9.6M1429.6 1572.4v-16.7M1429.6 101.4v16.7M1533.15 1572.4v-9.6M1533.15 101.4v9.6M1593.73 1572.4v-9.6M1593.73 101.4v9.6M1636.71 1572.4v-9.6M1636.71 101.4v9.6M1670.05 1572.4v-9.6M1670.05 101.4v9.6M1697.28 1572.4v-9.6M1697.28 101.4v9.6M1720.31 1572.4v-9.6M1720.31 101.4v9.6M1740.26 1572.4v-9.6M1740.26 101.4v9.6M1757.86 1572.4v-9.6M1757.86 101.4v9.6M397.6 358.45h9.6M1773.6 358.45h-9.6M397.6 293.69h9.6M1773.6 293.69h-9.6M397.6 247.74h9.6M1773.6 247.74h-9.6M397.6 212.1h9.6M1773.6 212.1h-9.6M397.6 182.98h9.6M1773.6 182.98h-9.6M397.6 158.37h9.6M1773.6 158.37h-9.6M397.6 137.04h9.6M1773.6 137.04h-9.6M397.6 118.23h9.6M1773.6 118.23h-9.6M397.6 469.15h16.7M1773.6 469.15h-16.7M397.6 726.2h9.6M1773.6 726.2h-9.6M397.6 661.44h9.6M1773.6 661.44h-9.6M397.6 615.49h9.6M1773.6 615.49h-9.6M397.6 579.85h9.6M1773.6 579.85h-9.6M397.6 550.73h9.6M1773.6 550.73h-9.6M397.6 526.12h9.6M1773.6 526.12h-9.6M397.6 504.79h9.6M1773.6 504.79h-9.6M397.6 485.98h9.6M1773.6 485.98h-9.6M397.6 836.9h16.7M1773.6 836.9h-16.7M397.6 1093.95h9.6M1773.6 1093.95h-9.6M397.6 1029.19h9.6M1773.6 1029.19h-9.6M397.6 983.24h9.6M1773.6 983.24h-9.6M397.6 947.6h9.6M1773.6 947.6h-9.6M397.6 918.48h9.6M1773.6 918.48h-9.6M397.6 893.87h9.6M1773.6 893.87h-9.6M397.6 872.54h9.6M1773.6 872.54h-9.6M397.6 853.73h9.6M1773.6 853.73h-9.6M397.6 1204.65h16.7M1773.6 1204.65h-16.7M397.6 1461.7h9.6M1773.6 1461.7h-9.6M397.6 1396.94h9.6M1773.6 1396.94h-9.6M397.6 1350.99h9.6M1773.6 1350.99h-9.6M397.6 1315.35h9.6M1773.6 1315.35h-9.6M397.6 1286.23h9.6M1773.6 1286.23h-9.6M397.6 1261.62h9.6M1773.6 1261.62h-9.6M397.6 1240.29h9.6M1773.6 1240.29h-9.6M397.6 1221.48h9.6M1773.6 1221.48h-9.6" fill="none" stroke="#262626" stroke-width="4.17"/>
<rect x="397.6" y="101.4" width="1376" height="1471" fill="none" stroke="#262626" stroke-width="4.17" stroke-linejoin="round"/>
<g fill="#262626" stroke="#262626" stroke-width="0.5" stroke-linejoin="round">
<text transform="translate(327.6 1716.2) scale(1 1.035)" font-size="83.33"><tspan x="3.42 46.34">10</tspan><tspan font-size="66.67" x="96.93" y="-38.84">1</tspan></text>
<text transform="translate(674 1716.2) scale(1 1.035)" font-size="83.33"><tspan x="3.42 46.34">10</tspan><tspan font-size="66.67" x="94.2" y="-38.84">2</tspan></text>
<text transform="translate(1015.6 1716.2) scale(1 1.035)" font-size="83.33"><tspan x="3.42 46.34">10</tspan><tspan font-size="66.67" x="94.2" y="-38.84">3</tspan></text>
<text transform="translate(1362 1716.2) scale(1 1.035)" font-size="83.33"><tspan x="3.42 46.34">10</tspan><tspan font-size="66.67" x="94.2" y="-38.84">4</tspan></text>
<text transform="translate(1703.6 1716.2) scale(1 1.035)" font-size="83.33"><tspan x="3.42 46.34">10</tspan><tspan font-size="66.67" x="94.2" y="-38.84">5</tspan></text>
<text transform="translate(139.5 145.45) scale(1 1.035)" font-size="83.33"><tspan x="3.42 46.34">10</tspan><tspan font-size="66.67" x="94.5 151.83 188.91" y="-38.36">−11</tspan></text>
<text transform="translate(139.5 512.5) scale(1 1.035)" font-size="83.33"><tspan x="3.42 46.34">10</tspan><tspan font-size="66.67" x="94.5 151.83 186.18" y="-38.36">−12</tspan></text>
<text transform="translate(139.5 883.7) scale(1 1.035)" font-size="83.33"><tspan x="3.42 46.34">10</tspan><tspan font-size="66.67" x="94.5 151.83 186.18" y="-38.36">−13</tspan></text>
<text transform="translate(139.5 1250.3) scale(1 1.035)" font-size="83.33"><tspan x="3.42 46.34">10</tspan><tspan font-size="66.67" x="94.5 151.83 186.18" y="-38.36">−14</tspan></text>
<text transform="translate(139.5 1616.5) scale(1 1.035)" font-size="83.33"><tspan x="3.42 46.34">10</tspan><tspan font-size="66.67" x="94.5 151.83 186.18" y="-38.36">−15</tspan></text>
<text transform="translate(1084.5 1826.4)" font-size="83.33" text-anchor="middle" letter-spacing="-0.15">Average time (s)</text>
<text transform="translate(97.7 841) rotate(-90)" font-size="83.33" text-anchor="middle" letter-spacing="-0.52">Modified Allan deviation</text>
</g>
<rect x="1308.4" y="47.1" width="500" height="841.7" fill="#fff" stroke="#262626" stroke-width="4.17"/>
<g fill="#000" stroke-width="0.5" stroke-linejoin="round">
<path d="M1332.8 108.9H1578.6" stroke="#ff0000" stroke-width="16.7" fill="none"/>
<text stroke="#000" transform="translate(1596.8 138.5) scale(1 1.035)" font-size="75" letter-spacing="-0.5">CNT</text>
<path d="M1332.8 211.41H1578.6" stroke="#120cf2" stroke-width="16.7" fill="none"/>
<text stroke="#000" transform="translate(1596.8 241.01) scale(1 1.035)" font-size="75" letter-spacing="-0.5">COD</text>
<path d="M1332.8 313.93H1578.6" stroke="#003c00" stroke-width="16.7" fill="none"/>
<text stroke="#000" transform="translate(1596.8 343.53) scale(1 1.035)" font-size="75" letter-spacing="-0.5">ESA</text>
<path d="M1332.8 416.44H1578.6" stroke="#f47e0c" stroke-width="16.7" fill="none"/>
<text stroke="#000" transform="translate(1596.8 446.04) scale(1 1.035)" font-size="75" letter-spacing="-0.5">GBM</text>
<path d="M1332.8 518.96H1578.6" stroke="#b80cf8" stroke-width="16.7" fill="none"/>
<text stroke="#000" transform="translate(1596.8 548.56) scale(1 1.035)" font-size="75" letter-spacing="-0.5">GRG</text>
<path d="M1332.8 621.47H1578.6" stroke="#40f608" stroke-width="16.7" fill="none"/>
<text stroke="#000" transform="translate(1596.8 651.07) scale(1 1.035)" font-size="75" letter-spacing="-0.5">IAC</text>
<path d="M1332.8 723.99H1578.6" stroke="#f90cbe" stroke-width="16.7" fill="none"/>
<text stroke="#000" transform="translate(1596.8 753.59) scale(1 1.035)" font-size="75" letter-spacing="-0.5">SHA</text>
<path d="M1332.8 826.5H1578.6" stroke="#0ce4f6" stroke-width="16.7" fill="none"/>
<text stroke="#000" transform="translate(1596.8 856.1) scale(1 1.035)" font-size="75" letter-spacing="-0.5">WUM</text>
</g>
</svg></body></html>
